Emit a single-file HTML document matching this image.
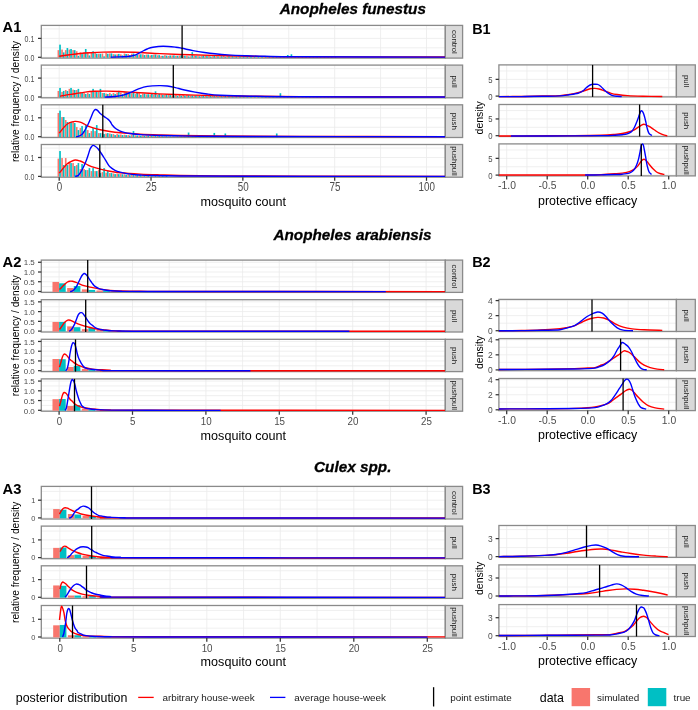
<!DOCTYPE html>
<html><head><meta charset="utf-8"><style>
html,body{margin:0;padding:0;background:#fff;}
svg{display:block;font-family:"Liberation Sans", sans-serif;will-change:transform;}
</style></head><body>
<svg width="698" height="710" viewBox="0 0 698 710">
<text transform="translate(352.8 14.4)" font-size="15.3" text-anchor="middle" font-weight="bold" font-style="italic" fill="#000" stroke="#000" stroke-width="0.3">Anopheles funestus</text>
<text transform="translate(2.5 32.3) scale(0.95 1)" font-size="15.5" fill="#000" font-weight="bold">A1</text>
<text transform="translate(472.2 33.9) scale(0.93 1)" font-size="15.5" fill="#000" font-weight="bold">B1</text>
<rect x="41.3" y="25.4" width="404" height="32.7" fill="#fff"/>
<line x1="59.2" y1="25.4" x2="59.2" y2="58.1" stroke="#EBEBEB" stroke-width="0.8"/>
<line x1="151.03" y1="25.4" x2="151.03" y2="58.1" stroke="#EBEBEB" stroke-width="0.8"/>
<line x1="242.85" y1="25.4" x2="242.85" y2="58.1" stroke="#EBEBEB" stroke-width="0.8"/>
<line x1="334.68" y1="25.4" x2="334.68" y2="58.1" stroke="#EBEBEB" stroke-width="0.8"/>
<line x1="426.5" y1="25.4" x2="426.5" y2="58.1" stroke="#EBEBEB" stroke-width="0.8"/>
<line x1="105.11" y1="25.4" x2="105.11" y2="58.1" stroke="#EBEBEB" stroke-width="0.8"/>
<line x1="196.94" y1="25.4" x2="196.94" y2="58.1" stroke="#EBEBEB" stroke-width="0.8"/>
<line x1="288.76" y1="25.4" x2="288.76" y2="58.1" stroke="#EBEBEB" stroke-width="0.8"/>
<line x1="380.59" y1="25.4" x2="380.59" y2="58.1" stroke="#EBEBEB" stroke-width="0.8"/>
<line x1="41.3" y1="57.3" x2="445.3" y2="57.3" stroke="#EBEBEB" stroke-width="0.8"/>
<line x1="41.3" y1="38.4" x2="445.3" y2="38.4" stroke="#EBEBEB" stroke-width="0.8"/>
<line x1="41.3" y1="47.85" x2="445.3" y2="47.85" stroke="#EBEBEB" stroke-width="0.8"/>
<line x1="41.3" y1="28.95" x2="445.3" y2="28.95" stroke="#EBEBEB" stroke-width="0.8"/>
<rect x="41.3" y="25.4" width="404" height="32.7" fill="none" stroke="#8a8a8a" stroke-width="1.3"/>
<rect x="445.3" y="25.4" width="17.3" height="32.7" fill="#D9D9D9" stroke="#8a8a8a" stroke-width="1.3"/>
<text transform="translate(453.55 41.95) rotate(90) scale(1 0.88)" y="2.05" text-anchor="middle" font-size="7.9" fill="#1a1a1a">control</text>
<rect x="57.55" y="50.12" width="1.65" height="7.58" fill="#F8766D"/>
<rect x="61.22" y="49.55" width="1.65" height="8.15" fill="#F8766D"/>
<rect x="64.89" y="50.12" width="1.65" height="7.58" fill="#F8766D"/>
<rect x="68.57" y="49.55" width="1.65" height="8.15" fill="#F8766D"/>
<rect x="72.24" y="50.12" width="1.65" height="7.58" fill="#F8766D"/>
<rect x="75.91" y="51.25" width="1.65" height="6.45" fill="#F8766D"/>
<rect x="79.59" y="52.39" width="1.65" height="5.31" fill="#F8766D"/>
<rect x="83.26" y="52.39" width="1.65" height="5.31" fill="#F8766D"/>
<rect x="86.93" y="52.39" width="1.65" height="5.31" fill="#F8766D"/>
<rect x="90.60" y="52.39" width="1.65" height="5.31" fill="#F8766D"/>
<rect x="94.28" y="52.95" width="1.65" height="4.75" fill="#F8766D"/>
<rect x="97.95" y="53.71" width="1.65" height="3.99" fill="#F8766D"/>
<rect x="101.62" y="53.52" width="1.65" height="4.18" fill="#F8766D"/>
<rect x="105.30" y="52.95" width="1.65" height="4.75" fill="#F8766D"/>
<rect x="108.97" y="53.52" width="1.65" height="4.18" fill="#F8766D"/>
<rect x="112.64" y="54.15" width="1.65" height="3.55" fill="#F8766D"/>
<rect x="116.32" y="54.34" width="1.65" height="3.36" fill="#F8766D"/>
<rect x="119.99" y="54.37" width="1.65" height="3.33" fill="#F8766D"/>
<rect x="123.66" y="53.55" width="1.65" height="4.15" fill="#F8766D"/>
<rect x="127.33" y="54.07" width="1.65" height="3.63" fill="#F8766D"/>
<rect x="131.01" y="53.68" width="1.65" height="4.02" fill="#F8766D"/>
<rect x="134.68" y="55.18" width="1.65" height="2.52" fill="#F8766D"/>
<rect x="138.35" y="54.42" width="1.65" height="3.28" fill="#F8766D"/>
<rect x="142.03" y="54.27" width="1.65" height="3.43" fill="#F8766D"/>
<rect x="145.70" y="54.56" width="1.65" height="3.14" fill="#F8766D"/>
<rect x="149.37" y="55.34" width="1.65" height="2.36" fill="#F8766D"/>
<rect x="153.05" y="54.75" width="1.65" height="2.95" fill="#F8766D"/>
<rect x="156.72" y="55.30" width="1.65" height="2.40" fill="#F8766D"/>
<rect x="160.39" y="55.89" width="1.65" height="1.81" fill="#F8766D"/>
<rect x="164.06" y="55.18" width="1.65" height="2.52" fill="#F8766D"/>
<rect x="167.74" y="55.88" width="1.65" height="1.82" fill="#F8766D"/>
<rect x="171.41" y="55.45" width="1.65" height="2.25" fill="#F8766D"/>
<rect x="175.08" y="55.82" width="1.65" height="1.88" fill="#F8766D"/>
<rect x="178.76" y="55.77" width="1.65" height="1.93" fill="#F8766D"/>
<rect x="182.43" y="55.82" width="1.65" height="1.88" fill="#F8766D"/>
<rect x="186.10" y="55.91" width="1.65" height="1.79" fill="#F8766D"/>
<rect x="189.78" y="56.30" width="1.65" height="1.40" fill="#F8766D"/>
<rect x="193.45" y="55.66" width="1.65" height="2.04" fill="#F8766D"/>
<rect x="197.12" y="56.13" width="1.65" height="1.57" fill="#F8766D"/>
<rect x="200.79" y="56.11" width="1.65" height="1.59" fill="#F8766D"/>
<rect x="204.47" y="55.98" width="1.65" height="1.72" fill="#F8766D"/>
<rect x="208.14" y="55.97" width="1.65" height="1.73" fill="#F8766D"/>
<rect x="211.81" y="56.22" width="1.65" height="1.48" fill="#F8766D"/>
<rect x="215.49" y="56.22" width="1.65" height="1.48" fill="#F8766D"/>
<rect x="219.16" y="56.43" width="1.65" height="1.27" fill="#F8766D"/>
<rect x="222.83" y="56.08" width="1.65" height="1.62" fill="#F8766D"/>
<rect x="226.51" y="56.21" width="1.65" height="1.49" fill="#F8766D"/>
<rect x="230.18" y="56.19" width="1.65" height="1.51" fill="#F8766D"/>
<rect x="233.85" y="56.26" width="1.65" height="1.44" fill="#F8766D"/>
<rect x="237.52" y="56.41" width="1.65" height="1.29" fill="#F8766D"/>
<rect x="241.20" y="56.67" width="1.65" height="1.03" fill="#F8766D"/>
<rect x="244.87" y="56.46" width="1.65" height="1.24" fill="#F8766D"/>
<rect x="248.54" y="56.51" width="1.65" height="1.19" fill="#F8766D"/>
<rect x="252.22" y="56.59" width="1.65" height="1.11" fill="#F8766D"/>
<rect x="255.89" y="56.53" width="1.65" height="1.17" fill="#F8766D"/>
<rect x="259.56" y="56.52" width="1.65" height="1.18" fill="#F8766D"/>
<rect x="263.24" y="56.77" width="1.65" height="0.93" fill="#F8766D"/>
<rect x="266.91" y="56.72" width="1.65" height="0.98" fill="#F8766D"/>
<rect x="270.58" y="56.47" width="1.65" height="1.23" fill="#F8766D"/>
<rect x="274.25" y="56.51" width="1.65" height="1.19" fill="#F8766D"/>
<rect x="277.93" y="56.72" width="1.65" height="0.98" fill="#F8766D"/>
<rect x="281.60" y="56.58" width="1.65" height="1.12" fill="#F8766D"/>
<rect x="285.27" y="56.83" width="1.65" height="0.87" fill="#F8766D"/>
<rect x="288.95" y="56.58" width="1.65" height="1.12" fill="#F8766D"/>
<rect x="292.62" y="56.81" width="1.65" height="0.89" fill="#F8766D"/>
<rect x="296.29" y="56.74" width="1.65" height="0.96" fill="#F8766D"/>
<rect x="299.97" y="56.81" width="1.65" height="0.89" fill="#F8766D"/>
<rect x="303.64" y="56.81" width="1.65" height="0.89" fill="#F8766D"/>
<rect x="307.31" y="56.64" width="1.65" height="1.06" fill="#F8766D"/>
<rect x="310.98" y="56.78" width="1.65" height="0.92" fill="#F8766D"/>
<rect x="314.66" y="56.88" width="1.65" height="0.82" fill="#F8766D"/>
<rect x="318.33" y="56.76" width="1.65" height="0.94" fill="#F8766D"/>
<rect x="322.00" y="56.86" width="1.65" height="0.84" fill="#F8766D"/>
<rect x="325.68" y="56.74" width="1.65" height="0.96" fill="#F8766D"/>
<rect x="329.35" y="56.71" width="1.65" height="0.99" fill="#F8766D"/>
<rect x="333.02" y="56.90" width="1.65" height="0.80" fill="#F8766D"/>
<rect x="59.20" y="44.64" width="1.65" height="13.06" fill="#00BFC4"/>
<rect x="62.87" y="52.39" width="1.65" height="5.31" fill="#00BFC4"/>
<rect x="66.55" y="48.04" width="1.65" height="9.66" fill="#00BFC4"/>
<rect x="70.22" y="48.98" width="1.65" height="8.72" fill="#00BFC4"/>
<rect x="73.89" y="50.12" width="1.65" height="7.58" fill="#00BFC4"/>
<rect x="77.56" y="55.79" width="1.65" height="1.91" fill="#00BFC4"/>
<rect x="81.24" y="54.09" width="1.65" height="3.61" fill="#00BFC4"/>
<rect x="84.91" y="48.98" width="1.65" height="8.72" fill="#00BFC4"/>
<rect x="88.58" y="55.41" width="1.65" height="2.29" fill="#00BFC4"/>
<rect x="92.26" y="51.25" width="1.65" height="6.45" fill="#00BFC4"/>
<rect x="95.93" y="53.71" width="1.65" height="3.99" fill="#00BFC4"/>
<rect x="99.60" y="53.71" width="1.65" height="3.99" fill="#00BFC4"/>
<rect x="103.28" y="56.36" width="1.65" height="1.35" fill="#00BFC4"/>
<rect x="106.95" y="53.71" width="1.65" height="3.99" fill="#00BFC4"/>
<rect x="110.62" y="53.40" width="1.65" height="4.30" fill="#00BFC4"/>
<rect x="114.30" y="54.49" width="1.65" height="3.21" fill="#00BFC4"/>
<rect x="117.97" y="53.92" width="1.65" height="3.78" fill="#00BFC4"/>
<rect x="121.64" y="55.40" width="1.65" height="2.30" fill="#00BFC4"/>
<rect x="125.31" y="53.99" width="1.65" height="3.71" fill="#00BFC4"/>
<rect x="128.99" y="55.15" width="1.65" height="2.55" fill="#00BFC4"/>
<rect x="132.66" y="53.55" width="1.65" height="4.15" fill="#00BFC4"/>
<rect x="136.33" y="55.01" width="1.65" height="2.69" fill="#00BFC4"/>
<rect x="140.01" y="54.26" width="1.65" height="3.44" fill="#00BFC4"/>
<rect x="143.68" y="55.04" width="1.65" height="2.66" fill="#00BFC4"/>
<rect x="147.35" y="54.63" width="1.65" height="3.07" fill="#00BFC4"/>
<rect x="151.03" y="54.93" width="1.65" height="2.77" fill="#00BFC4"/>
<rect x="154.70" y="54.55" width="1.65" height="3.15" fill="#00BFC4"/>
<rect x="158.37" y="55.14" width="1.65" height="2.56" fill="#00BFC4"/>
<rect x="162.04" y="55.83" width="1.65" height="1.87" fill="#00BFC4"/>
<rect x="165.72" y="55.62" width="1.65" height="2.08" fill="#00BFC4"/>
<rect x="169.39" y="55.49" width="1.65" height="2.21" fill="#00BFC4"/>
<rect x="173.06" y="55.38" width="1.65" height="2.32" fill="#00BFC4"/>
<rect x="176.74" y="55.80" width="1.65" height="1.90" fill="#00BFC4"/>
<rect x="180.41" y="55.40" width="1.65" height="2.30" fill="#00BFC4"/>
<rect x="184.08" y="55.98" width="1.65" height="1.72" fill="#00BFC4"/>
<rect x="187.75" y="56.49" width="1.65" height="1.21" fill="#00BFC4"/>
<rect x="191.43" y="52.20" width="1.65" height="5.50" fill="#00BFC4"/>
<rect x="195.10" y="55.90" width="1.65" height="1.80" fill="#00BFC4"/>
<rect x="198.77" y="56.43" width="1.65" height="1.27" fill="#00BFC4"/>
<rect x="202.45" y="55.59" width="1.65" height="2.11" fill="#00BFC4"/>
<rect x="206.12" y="56.11" width="1.65" height="1.59" fill="#00BFC4"/>
<rect x="209.79" y="56.46" width="1.65" height="1.24" fill="#00BFC4"/>
<rect x="213.47" y="55.80" width="1.65" height="1.90" fill="#00BFC4"/>
<rect x="217.14" y="56.30" width="1.65" height="1.40" fill="#00BFC4"/>
<rect x="220.81" y="56.26" width="1.65" height="1.44" fill="#00BFC4"/>
<rect x="224.49" y="56.76" width="1.65" height="0.94" fill="#00BFC4"/>
<rect x="228.16" y="56.09" width="1.65" height="1.61" fill="#00BFC4"/>
<rect x="231.83" y="56.19" width="1.65" height="1.51" fill="#00BFC4"/>
<rect x="235.50" y="56.40" width="1.65" height="1.30" fill="#00BFC4"/>
<rect x="239.18" y="56.50" width="1.65" height="1.20" fill="#00BFC4"/>
<rect x="242.85" y="56.19" width="1.65" height="1.51" fill="#00BFC4"/>
<rect x="246.52" y="56.71" width="1.65" height="0.99" fill="#00BFC4"/>
<rect x="250.20" y="56.52" width="1.65" height="1.18" fill="#00BFC4"/>
<rect x="253.87" y="56.63" width="1.65" height="1.07" fill="#00BFC4"/>
<rect x="257.54" y="56.46" width="1.65" height="1.24" fill="#00BFC4"/>
<rect x="261.22" y="56.59" width="1.65" height="1.11" fill="#00BFC4"/>
<rect x="264.89" y="56.75" width="1.65" height="0.95" fill="#00BFC4"/>
<rect x="268.56" y="56.54" width="1.65" height="1.16" fill="#00BFC4"/>
<rect x="272.23" y="56.42" width="1.65" height="1.28" fill="#00BFC4"/>
<rect x="275.91" y="56.43" width="1.65" height="1.27" fill="#00BFC4"/>
<rect x="279.58" y="56.43" width="1.65" height="1.27" fill="#00BFC4"/>
<rect x="283.25" y="56.89" width="1.65" height="0.81" fill="#00BFC4"/>
<rect x="286.93" y="55.03" width="1.65" height="2.67" fill="#00BFC4"/>
<rect x="290.60" y="54.28" width="1.65" height="3.42" fill="#00BFC4"/>
<rect x="294.27" y="56.61" width="1.65" height="1.09" fill="#00BFC4"/>
<rect x="297.94" y="56.92" width="1.65" height="0.78" fill="#00BFC4"/>
<rect x="301.62" y="56.68" width="1.65" height="1.02" fill="#00BFC4"/>
<rect x="305.29" y="56.82" width="1.65" height="0.88" fill="#00BFC4"/>
<rect x="308.96" y="56.73" width="1.65" height="0.97" fill="#00BFC4"/>
<rect x="312.64" y="56.73" width="1.65" height="0.97" fill="#00BFC4"/>
<rect x="316.31" y="56.78" width="1.65" height="0.92" fill="#00BFC4"/>
<rect x="319.98" y="56.89" width="1.65" height="0.81" fill="#00BFC4"/>
<rect x="323.66" y="56.53" width="1.65" height="1.17" fill="#00BFC4"/>
<rect x="327.33" y="56.89" width="1.65" height="0.81" fill="#00BFC4"/>
<rect x="331.00" y="56.59" width="1.65" height="1.11" fill="#00BFC4"/>
<rect x="334.68" y="56.99" width="1.65" height="0.71" fill="#00BFC4"/>
<path d="M59.20,56.20 C61.00,55.95 66.53,55.15 70.00,54.70 C73.47,54.25 76.67,53.83 80.00,53.50 C83.33,53.17 86.17,52.93 90.00,52.70 C93.83,52.47 98.33,52.22 103.00,52.10 C107.67,51.98 112.67,51.97 118.00,52.00 C123.33,52.03 128.00,52.03 135.00,52.30 C142.00,52.57 150.83,53.18 160.00,53.60 C169.17,54.02 180.00,54.47 190.00,54.80 C200.00,55.13 210.00,55.37 220.00,55.60 C230.00,55.83 236.67,56.02 250.00,56.20 C263.33,56.38 267.50,56.57 300.00,56.70 C332.50,56.83 420.83,56.95 445.00,57.00" fill="none" stroke="#FF0000" stroke-width="1.4" stroke-linejoin="round" stroke-linecap="butt"/>
<path d="M110.70,57.10 C112.25,57.07 116.78,57.05 120.00,56.90 C123.22,56.75 127.38,56.55 130.00,56.20 C132.62,55.85 133.78,55.53 135.70,54.80 C137.62,54.07 139.58,52.77 141.50,51.80 C143.42,50.83 145.30,49.77 147.20,49.00 C149.10,48.23 150.23,47.67 152.90,47.20 C155.57,46.73 159.38,46.20 163.20,46.20 C167.02,46.20 172.65,46.85 175.80,47.20 C178.95,47.55 179.23,47.73 182.10,48.30 C184.97,48.87 189.27,49.90 193.00,50.60 C196.73,51.30 200.83,51.97 204.50,52.50 C208.17,53.03 211.08,53.40 215.00,53.80 C218.92,54.20 223.00,54.58 228.00,54.90 C233.00,55.22 238.83,55.47 245.00,55.70 C251.17,55.93 255.83,56.12 265.00,56.30 C274.17,56.48 270.00,56.67 300.00,56.80 C330.00,56.93 420.83,57.05 445.00,57.10" fill="none" stroke="#0000FF" stroke-width="1.4" stroke-linejoin="round" stroke-linecap="butt"/>
<line x1="182.10" y1="25.40" x2="182.10" y2="58.10" stroke="#000" stroke-width="1.3"/>
<line x1="38" y1="57.3" x2="41.3" y2="57.3" stroke="#333333" stroke-width="1.25"/>
<text transform="translate(34.3 60.9) scale(0.86 1)" font-size="8.2" fill="#4d4d4d" text-anchor="end">0.0</text>
<line x1="38" y1="38.4" x2="41.3" y2="38.4" stroke="#333333" stroke-width="1.25"/>
<text transform="translate(34.3 42) scale(0.86 1)" font-size="8.2" fill="#4d4d4d" text-anchor="end">0.1</text>
<rect x="41.3" y="65.1" width="404" height="32.7" fill="#fff"/>
<line x1="59.2" y1="65.1" x2="59.2" y2="97.8" stroke="#EBEBEB" stroke-width="0.8"/>
<line x1="151.03" y1="65.1" x2="151.03" y2="97.8" stroke="#EBEBEB" stroke-width="0.8"/>
<line x1="242.85" y1="65.1" x2="242.85" y2="97.8" stroke="#EBEBEB" stroke-width="0.8"/>
<line x1="334.68" y1="65.1" x2="334.68" y2="97.8" stroke="#EBEBEB" stroke-width="0.8"/>
<line x1="426.5" y1="65.1" x2="426.5" y2="97.8" stroke="#EBEBEB" stroke-width="0.8"/>
<line x1="105.11" y1="65.1" x2="105.11" y2="97.8" stroke="#EBEBEB" stroke-width="0.8"/>
<line x1="196.94" y1="65.1" x2="196.94" y2="97.8" stroke="#EBEBEB" stroke-width="0.8"/>
<line x1="288.76" y1="65.1" x2="288.76" y2="97.8" stroke="#EBEBEB" stroke-width="0.8"/>
<line x1="380.59" y1="65.1" x2="380.59" y2="97.8" stroke="#EBEBEB" stroke-width="0.8"/>
<line x1="41.3" y1="97" x2="445.3" y2="97" stroke="#EBEBEB" stroke-width="0.8"/>
<line x1="41.3" y1="78.1" x2="445.3" y2="78.1" stroke="#EBEBEB" stroke-width="0.8"/>
<line x1="41.3" y1="87.55" x2="445.3" y2="87.55" stroke="#EBEBEB" stroke-width="0.8"/>
<line x1="41.3" y1="68.65" x2="445.3" y2="68.65" stroke="#EBEBEB" stroke-width="0.8"/>
<rect x="41.3" y="65.1" width="404" height="32.7" fill="none" stroke="#8a8a8a" stroke-width="1.3"/>
<rect x="445.3" y="65.1" width="17.3" height="32.7" fill="#D9D9D9" stroke="#8a8a8a" stroke-width="1.3"/>
<text transform="translate(453.55 81.65) rotate(90) scale(1 0.88)" y="2.05" text-anchor="middle" font-size="7.9" fill="#1a1a1a">pull</text>
<rect x="57.55" y="90.95" width="1.65" height="6.45" fill="#F8766D"/>
<rect x="61.22" y="91.90" width="1.65" height="5.50" fill="#F8766D"/>
<rect x="64.89" y="90.01" width="1.65" height="7.39" fill="#F8766D"/>
<rect x="68.57" y="88.87" width="1.65" height="8.53" fill="#F8766D"/>
<rect x="72.24" y="89.63" width="1.65" height="7.77" fill="#F8766D"/>
<rect x="75.91" y="90.01" width="1.65" height="7.39" fill="#F8766D"/>
<rect x="79.59" y="91.90" width="1.65" height="5.50" fill="#F8766D"/>
<rect x="83.26" y="93.03" width="1.65" height="4.37" fill="#F8766D"/>
<rect x="86.93" y="93.03" width="1.65" height="4.37" fill="#F8766D"/>
<rect x="90.60" y="91.90" width="1.65" height="5.50" fill="#F8766D"/>
<rect x="94.28" y="90.95" width="1.65" height="6.45" fill="#F8766D"/>
<rect x="97.95" y="91.90" width="1.65" height="5.50" fill="#F8766D"/>
<rect x="101.62" y="93.03" width="1.65" height="4.37" fill="#F8766D"/>
<rect x="105.30" y="93.60" width="1.65" height="3.80" fill="#F8766D"/>
<rect x="108.97" y="92.90" width="1.65" height="4.50" fill="#F8766D"/>
<rect x="112.64" y="92.92" width="1.65" height="4.48" fill="#F8766D"/>
<rect x="116.32" y="92.71" width="1.65" height="4.69" fill="#F8766D"/>
<rect x="119.99" y="92.59" width="1.65" height="4.81" fill="#F8766D"/>
<rect x="123.66" y="92.37" width="1.65" height="5.03" fill="#F8766D"/>
<rect x="127.33" y="92.95" width="1.65" height="4.45" fill="#F8766D"/>
<rect x="131.01" y="93.13" width="1.65" height="4.27" fill="#F8766D"/>
<rect x="134.68" y="94.07" width="1.65" height="3.33" fill="#F8766D"/>
<rect x="138.35" y="93.21" width="1.65" height="4.19" fill="#F8766D"/>
<rect x="142.03" y="93.74" width="1.65" height="3.66" fill="#F8766D"/>
<rect x="145.70" y="94.36" width="1.65" height="3.04" fill="#F8766D"/>
<rect x="149.37" y="94.46" width="1.65" height="2.94" fill="#F8766D"/>
<rect x="153.05" y="94.58" width="1.65" height="2.82" fill="#F8766D"/>
<rect x="156.72" y="94.89" width="1.65" height="2.51" fill="#F8766D"/>
<rect x="160.39" y="94.34" width="1.65" height="3.06" fill="#F8766D"/>
<rect x="164.06" y="94.86" width="1.65" height="2.54" fill="#F8766D"/>
<rect x="167.74" y="94.79" width="1.65" height="2.61" fill="#F8766D"/>
<rect x="171.41" y="95.42" width="1.65" height="1.98" fill="#F8766D"/>
<rect x="175.08" y="95.02" width="1.65" height="2.38" fill="#F8766D"/>
<rect x="178.76" y="94.92" width="1.65" height="2.48" fill="#F8766D"/>
<rect x="182.43" y="95.01" width="1.65" height="2.39" fill="#F8766D"/>
<rect x="186.10" y="95.06" width="1.65" height="2.34" fill="#F8766D"/>
<rect x="189.78" y="95.52" width="1.65" height="1.88" fill="#F8766D"/>
<rect x="193.45" y="95.47" width="1.65" height="1.93" fill="#F8766D"/>
<rect x="197.12" y="95.79" width="1.65" height="1.61" fill="#F8766D"/>
<rect x="200.79" y="95.70" width="1.65" height="1.70" fill="#F8766D"/>
<rect x="204.47" y="95.68" width="1.65" height="1.72" fill="#F8766D"/>
<rect x="208.14" y="95.60" width="1.65" height="1.80" fill="#F8766D"/>
<rect x="211.81" y="95.60" width="1.65" height="1.80" fill="#F8766D"/>
<rect x="215.49" y="95.75" width="1.65" height="1.65" fill="#F8766D"/>
<rect x="219.16" y="95.85" width="1.65" height="1.55" fill="#F8766D"/>
<rect x="222.83" y="96.14" width="1.65" height="1.26" fill="#F8766D"/>
<rect x="226.51" y="96.23" width="1.65" height="1.17" fill="#F8766D"/>
<rect x="230.18" y="95.86" width="1.65" height="1.54" fill="#F8766D"/>
<rect x="233.85" y="96.23" width="1.65" height="1.17" fill="#F8766D"/>
<rect x="237.52" y="96.15" width="1.65" height="1.25" fill="#F8766D"/>
<rect x="241.20" y="96.36" width="1.65" height="1.04" fill="#F8766D"/>
<rect x="244.87" y="96.31" width="1.65" height="1.09" fill="#F8766D"/>
<rect x="248.54" y="96.37" width="1.65" height="1.03" fill="#F8766D"/>
<rect x="252.22" y="96.42" width="1.65" height="0.98" fill="#F8766D"/>
<rect x="255.89" y="96.43" width="1.65" height="0.97" fill="#F8766D"/>
<rect x="259.56" y="96.11" width="1.65" height="1.29" fill="#F8766D"/>
<rect x="263.24" y="96.39" width="1.65" height="1.01" fill="#F8766D"/>
<rect x="266.91" y="96.33" width="1.65" height="1.07" fill="#F8766D"/>
<rect x="270.58" y="96.10" width="1.65" height="1.30" fill="#F8766D"/>
<rect x="274.25" y="96.49" width="1.65" height="0.91" fill="#F8766D"/>
<rect x="277.93" y="96.28" width="1.65" height="1.12" fill="#F8766D"/>
<rect x="281.60" y="96.48" width="1.65" height="0.92" fill="#F8766D"/>
<rect x="285.27" y="96.52" width="1.65" height="0.88" fill="#F8766D"/>
<rect x="288.95" y="96.27" width="1.65" height="1.13" fill="#F8766D"/>
<rect x="292.62" y="96.23" width="1.65" height="1.17" fill="#F8766D"/>
<rect x="296.29" y="96.26" width="1.65" height="1.14" fill="#F8766D"/>
<rect x="299.97" y="96.40" width="1.65" height="1.00" fill="#F8766D"/>
<rect x="303.64" y="96.35" width="1.65" height="1.05" fill="#F8766D"/>
<rect x="307.31" y="96.54" width="1.65" height="0.86" fill="#F8766D"/>
<rect x="310.98" y="96.29" width="1.65" height="1.11" fill="#F8766D"/>
<rect x="314.66" y="96.40" width="1.65" height="1.00" fill="#F8766D"/>
<rect x="318.33" y="96.43" width="1.65" height="0.97" fill="#F8766D"/>
<rect x="322.00" y="96.29" width="1.65" height="1.11" fill="#F8766D"/>
<rect x="325.68" y="96.41" width="1.65" height="0.99" fill="#F8766D"/>
<rect x="329.35" y="96.60" width="1.65" height="0.80" fill="#F8766D"/>
<rect x="333.02" y="96.56" width="1.65" height="0.84" fill="#F8766D"/>
<rect x="59.20" y="87.93" width="1.65" height="9.47" fill="#00BFC4"/>
<rect x="62.87" y="90.95" width="1.65" height="6.45" fill="#00BFC4"/>
<rect x="66.55" y="90.95" width="1.65" height="6.45" fill="#00BFC4"/>
<rect x="70.22" y="87.93" width="1.65" height="9.47" fill="#00BFC4"/>
<rect x="73.89" y="90.01" width="1.65" height="7.39" fill="#00BFC4"/>
<rect x="77.56" y="88.87" width="1.65" height="8.53" fill="#00BFC4"/>
<rect x="81.24" y="93.03" width="1.65" height="4.37" fill="#00BFC4"/>
<rect x="84.91" y="93.98" width="1.65" height="3.42" fill="#00BFC4"/>
<rect x="88.58" y="93.98" width="1.65" height="3.42" fill="#00BFC4"/>
<rect x="92.26" y="88.87" width="1.65" height="8.53" fill="#00BFC4"/>
<rect x="95.93" y="91.90" width="1.65" height="5.50" fill="#00BFC4"/>
<rect x="99.60" y="88.87" width="1.65" height="8.53" fill="#00BFC4"/>
<rect x="103.28" y="93.03" width="1.65" height="4.37" fill="#00BFC4"/>
<rect x="106.95" y="93.98" width="1.65" height="3.42" fill="#00BFC4"/>
<rect x="110.62" y="94.24" width="1.65" height="3.16" fill="#00BFC4"/>
<rect x="114.30" y="93.95" width="1.65" height="3.45" fill="#00BFC4"/>
<rect x="117.97" y="90.83" width="1.65" height="6.57" fill="#00BFC4"/>
<rect x="121.64" y="94.13" width="1.65" height="3.27" fill="#00BFC4"/>
<rect x="125.31" y="92.20" width="1.65" height="5.20" fill="#00BFC4"/>
<rect x="128.99" y="92.12" width="1.65" height="5.28" fill="#00BFC4"/>
<rect x="132.66" y="92.75" width="1.65" height="4.65" fill="#00BFC4"/>
<rect x="136.33" y="92.44" width="1.65" height="4.96" fill="#00BFC4"/>
<rect x="140.01" y="94.90" width="1.65" height="2.50" fill="#00BFC4"/>
<rect x="143.68" y="93.60" width="1.65" height="3.80" fill="#00BFC4"/>
<rect x="147.35" y="94.23" width="1.65" height="3.17" fill="#00BFC4"/>
<rect x="151.03" y="93.47" width="1.65" height="3.93" fill="#00BFC4"/>
<rect x="154.70" y="91.33" width="1.65" height="6.07" fill="#00BFC4"/>
<rect x="158.37" y="93.92" width="1.65" height="3.48" fill="#00BFC4"/>
<rect x="162.04" y="94.90" width="1.65" height="2.50" fill="#00BFC4"/>
<rect x="165.72" y="94.16" width="1.65" height="3.24" fill="#00BFC4"/>
<rect x="169.39" y="95.06" width="1.65" height="2.34" fill="#00BFC4"/>
<rect x="173.06" y="95.43" width="1.65" height="1.97" fill="#00BFC4"/>
<rect x="176.74" y="95.75" width="1.65" height="1.65" fill="#00BFC4"/>
<rect x="180.41" y="95.66" width="1.65" height="1.74" fill="#00BFC4"/>
<rect x="184.08" y="95.66" width="1.65" height="1.74" fill="#00BFC4"/>
<rect x="187.75" y="95.17" width="1.65" height="2.23" fill="#00BFC4"/>
<rect x="191.43" y="95.50" width="1.65" height="1.90" fill="#00BFC4"/>
<rect x="195.10" y="95.48" width="1.65" height="1.92" fill="#00BFC4"/>
<rect x="198.77" y="96.01" width="1.65" height="1.39" fill="#00BFC4"/>
<rect x="202.45" y="95.21" width="1.65" height="2.19" fill="#00BFC4"/>
<rect x="206.12" y="96.23" width="1.65" height="1.17" fill="#00BFC4"/>
<rect x="209.79" y="95.57" width="1.65" height="1.83" fill="#00BFC4"/>
<rect x="213.47" y="96.17" width="1.65" height="1.23" fill="#00BFC4"/>
<rect x="217.14" y="96.34" width="1.65" height="1.06" fill="#00BFC4"/>
<rect x="220.81" y="96.16" width="1.65" height="1.24" fill="#00BFC4"/>
<rect x="224.49" y="95.64" width="1.65" height="1.76" fill="#00BFC4"/>
<rect x="228.16" y="95.99" width="1.65" height="1.41" fill="#00BFC4"/>
<rect x="231.83" y="96.27" width="1.65" height="1.13" fill="#00BFC4"/>
<rect x="235.50" y="95.76" width="1.65" height="1.64" fill="#00BFC4"/>
<rect x="239.18" y="95.93" width="1.65" height="1.47" fill="#00BFC4"/>
<rect x="242.85" y="96.24" width="1.65" height="1.16" fill="#00BFC4"/>
<rect x="246.52" y="96.03" width="1.65" height="1.37" fill="#00BFC4"/>
<rect x="250.20" y="95.85" width="1.65" height="1.55" fill="#00BFC4"/>
<rect x="253.87" y="96.04" width="1.65" height="1.36" fill="#00BFC4"/>
<rect x="257.54" y="96.40" width="1.65" height="1.00" fill="#00BFC4"/>
<rect x="261.22" y="96.48" width="1.65" height="0.92" fill="#00BFC4"/>
<rect x="264.89" y="96.14" width="1.65" height="1.26" fill="#00BFC4"/>
<rect x="268.56" y="96.58" width="1.65" height="0.82" fill="#00BFC4"/>
<rect x="272.23" y="96.52" width="1.65" height="0.88" fill="#00BFC4"/>
<rect x="275.91" y="96.41" width="1.65" height="0.99" fill="#00BFC4"/>
<rect x="279.58" y="93.22" width="1.65" height="4.18" fill="#00BFC4"/>
<rect x="283.25" y="96.44" width="1.65" height="0.96" fill="#00BFC4"/>
<rect x="286.93" y="96.38" width="1.65" height="1.02" fill="#00BFC4"/>
<rect x="290.60" y="96.23" width="1.65" height="1.17" fill="#00BFC4"/>
<rect x="294.27" y="96.23" width="1.65" height="1.17" fill="#00BFC4"/>
<rect x="297.94" y="96.27" width="1.65" height="1.13" fill="#00BFC4"/>
<rect x="301.62" y="96.54" width="1.65" height="0.86" fill="#00BFC4"/>
<rect x="305.29" y="96.50" width="1.65" height="0.90" fill="#00BFC4"/>
<rect x="308.96" y="96.44" width="1.65" height="0.96" fill="#00BFC4"/>
<rect x="312.64" y="96.61" width="1.65" height="0.79" fill="#00BFC4"/>
<rect x="316.31" y="96.48" width="1.65" height="0.92" fill="#00BFC4"/>
<rect x="319.98" y="96.61" width="1.65" height="0.79" fill="#00BFC4"/>
<rect x="323.66" y="96.56" width="1.65" height="0.84" fill="#00BFC4"/>
<rect x="327.33" y="96.48" width="1.65" height="0.92" fill="#00BFC4"/>
<rect x="331.00" y="96.42" width="1.65" height="0.98" fill="#00BFC4"/>
<rect x="334.68" y="96.67" width="1.65" height="0.73" fill="#00BFC4"/>
<path d="M60.00,96.10 C61.17,95.90 64.48,95.30 67.00,94.90 C69.52,94.50 72.08,94.17 75.10,93.70 C78.12,93.23 81.77,92.50 85.10,92.10 C88.43,91.70 91.43,91.47 95.10,91.30 C98.77,91.13 103.08,91.07 107.10,91.10 C111.12,91.13 114.52,91.27 119.20,91.50 C123.88,91.73 129.18,92.13 135.20,92.50 C141.22,92.87 148.62,93.37 155.30,93.70 C161.98,94.03 168.68,94.27 175.30,94.50 C181.92,94.73 187.55,94.90 195.00,95.10 C202.45,95.30 210.83,95.52 220.00,95.70 C229.17,95.88 236.67,96.05 250.00,96.20 C263.33,96.35 267.50,96.48 300.00,96.60 C332.50,96.72 420.83,96.85 445.00,96.90" fill="none" stroke="#FF0000" stroke-width="1.4" stroke-linejoin="round" stroke-linecap="butt"/>
<path d="M104.70,97.10 C106.45,97.00 112.12,96.83 115.20,96.50 C118.28,96.17 120.53,95.83 123.20,95.10 C125.87,94.37 128.53,93.18 131.20,92.10 C133.87,91.02 136.52,89.55 139.20,88.60 C141.88,87.65 143.95,86.90 147.30,86.40 C150.65,85.90 155.97,85.67 159.30,85.60 C162.63,85.53 164.63,85.67 167.30,86.00 C169.97,86.33 172.62,86.98 175.30,87.60 C177.98,88.22 180.12,88.95 183.40,89.70 C186.68,90.45 191.07,91.38 195.00,92.10 C198.93,92.82 202.75,93.48 207.00,94.00 C211.25,94.52 213.33,94.83 220.50,95.20 C227.67,95.57 236.75,95.93 250.00,96.20 C263.25,96.47 267.50,96.67 300.00,96.80 C332.50,96.93 420.83,96.97 445.00,97.00" fill="none" stroke="#0000FF" stroke-width="1.4" stroke-linejoin="round" stroke-linecap="butt"/>
<line x1="173.30" y1="65.10" x2="173.30" y2="97.80" stroke="#000" stroke-width="1.3"/>
<line x1="38" y1="97" x2="41.3" y2="97" stroke="#333333" stroke-width="1.25"/>
<text transform="translate(34.3 100.6) scale(0.86 1)" font-size="8.2" fill="#4d4d4d" text-anchor="end">0.0</text>
<line x1="38" y1="78.1" x2="41.3" y2="78.1" stroke="#333333" stroke-width="1.25"/>
<text transform="translate(34.3 81.7) scale(0.86 1)" font-size="8.2" fill="#4d4d4d" text-anchor="end">0.1</text>
<rect x="41.3" y="104.8" width="404" height="32.7" fill="#fff"/>
<line x1="59.2" y1="104.8" x2="59.2" y2="137.5" stroke="#EBEBEB" stroke-width="0.8"/>
<line x1="151.03" y1="104.8" x2="151.03" y2="137.5" stroke="#EBEBEB" stroke-width="0.8"/>
<line x1="242.85" y1="104.8" x2="242.85" y2="137.5" stroke="#EBEBEB" stroke-width="0.8"/>
<line x1="334.68" y1="104.8" x2="334.68" y2="137.5" stroke="#EBEBEB" stroke-width="0.8"/>
<line x1="426.5" y1="104.8" x2="426.5" y2="137.5" stroke="#EBEBEB" stroke-width="0.8"/>
<line x1="105.11" y1="104.8" x2="105.11" y2="137.5" stroke="#EBEBEB" stroke-width="0.8"/>
<line x1="196.94" y1="104.8" x2="196.94" y2="137.5" stroke="#EBEBEB" stroke-width="0.8"/>
<line x1="288.76" y1="104.8" x2="288.76" y2="137.5" stroke="#EBEBEB" stroke-width="0.8"/>
<line x1="380.59" y1="104.8" x2="380.59" y2="137.5" stroke="#EBEBEB" stroke-width="0.8"/>
<line x1="41.3" y1="136.7" x2="445.3" y2="136.7" stroke="#EBEBEB" stroke-width="0.8"/>
<line x1="41.3" y1="117.8" x2="445.3" y2="117.8" stroke="#EBEBEB" stroke-width="0.8"/>
<line x1="41.3" y1="127.25" x2="445.3" y2="127.25" stroke="#EBEBEB" stroke-width="0.8"/>
<line x1="41.3" y1="108.35" x2="445.3" y2="108.35" stroke="#EBEBEB" stroke-width="0.8"/>
<rect x="41.3" y="104.8" width="404" height="32.7" fill="none" stroke="#8a8a8a" stroke-width="1.3"/>
<rect x="445.3" y="104.8" width="17.3" height="32.7" fill="#D9D9D9" stroke="#8a8a8a" stroke-width="1.3"/>
<text transform="translate(453.55 121.35) rotate(90) scale(1 0.88)" y="2.05" text-anchor="middle" font-size="7.9" fill="#1a1a1a">push</text>
<rect x="57.55" y="113.03" width="1.65" height="24.07" fill="#F8766D"/>
<rect x="61.22" y="117.04" width="1.65" height="20.06" fill="#F8766D"/>
<rect x="64.89" y="120.05" width="1.65" height="17.05" fill="#F8766D"/>
<rect x="68.57" y="123.06" width="1.65" height="14.04" fill="#F8766D"/>
<rect x="72.24" y="122.06" width="1.65" height="15.04" fill="#F8766D"/>
<rect x="75.91" y="127.07" width="1.65" height="10.03" fill="#F8766D"/>
<rect x="79.59" y="128.08" width="1.65" height="9.02" fill="#F8766D"/>
<rect x="83.26" y="131.08" width="1.65" height="6.02" fill="#F8766D"/>
<rect x="86.93" y="130.08" width="1.65" height="7.02" fill="#F8766D"/>
<rect x="90.60" y="131.08" width="1.65" height="6.02" fill="#F8766D"/>
<rect x="94.28" y="131.08" width="1.65" height="6.02" fill="#F8766D"/>
<rect x="97.95" y="133.09" width="1.65" height="4.01" fill="#F8766D"/>
<rect x="101.62" y="133.09" width="1.65" height="4.01" fill="#F8766D"/>
<rect x="105.30" y="133.49" width="1.65" height="3.61" fill="#F8766D"/>
<rect x="108.97" y="133.49" width="1.65" height="3.61" fill="#F8766D"/>
<rect x="112.64" y="134.09" width="1.65" height="3.01" fill="#F8766D"/>
<rect x="116.32" y="134.09" width="1.65" height="3.01" fill="#F8766D"/>
<rect x="119.99" y="134.49" width="1.65" height="2.61" fill="#F8766D"/>
<rect x="123.66" y="134.69" width="1.65" height="2.41" fill="#F8766D"/>
<rect x="127.33" y="135.10" width="1.65" height="2.00" fill="#F8766D"/>
<rect x="131.01" y="135.10" width="1.65" height="2.00" fill="#F8766D"/>
<rect x="134.68" y="135.30" width="1.65" height="1.80" fill="#F8766D"/>
<rect x="138.35" y="135.50" width="1.65" height="1.60" fill="#F8766D"/>
<rect x="142.03" y="135.50" width="1.65" height="1.60" fill="#F8766D"/>
<rect x="145.70" y="135.70" width="1.65" height="1.40" fill="#F8766D"/>
<rect x="149.37" y="135.70" width="1.65" height="1.40" fill="#F8766D"/>
<rect x="153.05" y="135.90" width="1.65" height="1.20" fill="#F8766D"/>
<rect x="156.72" y="135.90" width="1.65" height="1.20" fill="#F8766D"/>
<rect x="160.39" y="136.10" width="1.65" height="1.00" fill="#F8766D"/>
<rect x="164.06" y="136.10" width="1.65" height="1.00" fill="#F8766D"/>
<rect x="167.74" y="136.32" width="1.65" height="0.78" fill="#F8766D"/>
<rect x="171.41" y="136.32" width="1.65" height="0.78" fill="#F8766D"/>
<rect x="175.08" y="136.32" width="1.65" height="0.78" fill="#F8766D"/>
<rect x="178.76" y="136.32" width="1.65" height="0.78" fill="#F8766D"/>
<rect x="182.43" y="136.32" width="1.65" height="0.78" fill="#F8766D"/>
<rect x="186.10" y="136.32" width="1.65" height="0.78" fill="#F8766D"/>
<rect x="189.78" y="136.32" width="1.65" height="0.78" fill="#F8766D"/>
<rect x="193.45" y="136.32" width="1.65" height="0.78" fill="#F8766D"/>
<rect x="197.12" y="136.32" width="1.65" height="0.78" fill="#F8766D"/>
<rect x="200.79" y="136.32" width="1.65" height="0.78" fill="#F8766D"/>
<rect x="204.47" y="136.32" width="1.65" height="0.78" fill="#F8766D"/>
<rect x="208.14" y="136.32" width="1.65" height="0.78" fill="#F8766D"/>
<rect x="211.81" y="136.32" width="1.65" height="0.78" fill="#F8766D"/>
<rect x="215.49" y="136.32" width="1.65" height="0.78" fill="#F8766D"/>
<rect x="219.16" y="136.32" width="1.65" height="0.78" fill="#F8766D"/>
<rect x="222.83" y="136.32" width="1.65" height="0.78" fill="#F8766D"/>
<rect x="226.51" y="136.32" width="1.65" height="0.78" fill="#F8766D"/>
<rect x="230.18" y="136.32" width="1.65" height="0.78" fill="#F8766D"/>
<rect x="233.85" y="136.32" width="1.65" height="0.78" fill="#F8766D"/>
<rect x="237.52" y="136.32" width="1.65" height="0.78" fill="#F8766D"/>
<rect x="241.20" y="136.32" width="1.65" height="0.78" fill="#F8766D"/>
<rect x="244.87" y="136.32" width="1.65" height="0.78" fill="#F8766D"/>
<rect x="248.54" y="136.32" width="1.65" height="0.78" fill="#F8766D"/>
<rect x="252.22" y="136.32" width="1.65" height="0.78" fill="#F8766D"/>
<rect x="255.89" y="136.32" width="1.65" height="0.78" fill="#F8766D"/>
<rect x="259.56" y="136.32" width="1.65" height="0.78" fill="#F8766D"/>
<rect x="263.24" y="136.32" width="1.65" height="0.78" fill="#F8766D"/>
<rect x="266.91" y="136.32" width="1.65" height="0.78" fill="#F8766D"/>
<rect x="270.58" y="136.32" width="1.65" height="0.78" fill="#F8766D"/>
<rect x="274.25" y="136.32" width="1.65" height="0.78" fill="#F8766D"/>
<rect x="277.93" y="136.32" width="1.65" height="0.78" fill="#F8766D"/>
<rect x="59.20" y="110.63" width="1.65" height="26.47" fill="#00BFC4"/>
<rect x="62.87" y="117.04" width="1.65" height="20.06" fill="#00BFC4"/>
<rect x="66.55" y="122.06" width="1.65" height="15.04" fill="#00BFC4"/>
<rect x="70.22" y="122.06" width="1.65" height="15.04" fill="#00BFC4"/>
<rect x="73.89" y="123.06" width="1.65" height="14.04" fill="#00BFC4"/>
<rect x="77.56" y="130.08" width="1.65" height="7.02" fill="#00BFC4"/>
<rect x="81.24" y="126.07" width="1.65" height="11.03" fill="#00BFC4"/>
<rect x="84.91" y="125.07" width="1.65" height="12.03" fill="#00BFC4"/>
<rect x="88.58" y="133.09" width="1.65" height="4.01" fill="#00BFC4"/>
<rect x="92.26" y="128.08" width="1.65" height="9.02" fill="#00BFC4"/>
<rect x="95.93" y="125.07" width="1.65" height="12.03" fill="#00BFC4"/>
<rect x="99.60" y="133.09" width="1.65" height="4.01" fill="#00BFC4"/>
<rect x="103.28" y="134.09" width="1.65" height="3.01" fill="#00BFC4"/>
<rect x="106.95" y="133.09" width="1.65" height="4.01" fill="#00BFC4"/>
<rect x="110.62" y="134.09" width="1.65" height="3.01" fill="#00BFC4"/>
<rect x="114.30" y="135.10" width="1.65" height="2.00" fill="#00BFC4"/>
<rect x="117.97" y="134.69" width="1.65" height="2.41" fill="#00BFC4"/>
<rect x="121.64" y="135.10" width="1.65" height="2.00" fill="#00BFC4"/>
<rect x="125.31" y="135.10" width="1.65" height="2.00" fill="#00BFC4"/>
<rect x="128.99" y="135.50" width="1.65" height="1.60" fill="#00BFC4"/>
<rect x="132.66" y="131.08" width="1.65" height="6.02" fill="#00BFC4"/>
<rect x="136.33" y="135.50" width="1.65" height="1.60" fill="#00BFC4"/>
<rect x="140.01" y="135.70" width="1.65" height="1.40" fill="#00BFC4"/>
<rect x="143.68" y="135.90" width="1.65" height="1.20" fill="#00BFC4"/>
<rect x="147.35" y="135.90" width="1.65" height="1.20" fill="#00BFC4"/>
<rect x="151.03" y="136.10" width="1.65" height="1.00" fill="#00BFC4"/>
<rect x="154.70" y="136.10" width="1.65" height="1.00" fill="#00BFC4"/>
<rect x="158.37" y="136.10" width="1.65" height="1.00" fill="#00BFC4"/>
<rect x="162.04" y="136.30" width="1.65" height="0.80" fill="#00BFC4"/>
<rect x="165.72" y="136.30" width="1.65" height="0.80" fill="#00BFC4"/>
<rect x="169.39" y="136.42" width="1.65" height="0.68" fill="#00BFC4"/>
<rect x="173.06" y="136.42" width="1.65" height="0.68" fill="#00BFC4"/>
<rect x="176.74" y="136.42" width="1.65" height="0.68" fill="#00BFC4"/>
<rect x="180.41" y="136.42" width="1.65" height="0.68" fill="#00BFC4"/>
<rect x="184.08" y="136.42" width="1.65" height="0.68" fill="#00BFC4"/>
<rect x="187.75" y="132.54" width="1.65" height="4.56" fill="#00BFC4"/>
<rect x="191.43" y="136.42" width="1.65" height="0.68" fill="#00BFC4"/>
<rect x="195.10" y="136.42" width="1.65" height="0.68" fill="#00BFC4"/>
<rect x="198.77" y="136.42" width="1.65" height="0.68" fill="#00BFC4"/>
<rect x="202.45" y="136.42" width="1.65" height="0.68" fill="#00BFC4"/>
<rect x="206.12" y="136.42" width="1.65" height="0.68" fill="#00BFC4"/>
<rect x="209.79" y="136.42" width="1.65" height="0.68" fill="#00BFC4"/>
<rect x="213.47" y="132.92" width="1.65" height="4.18" fill="#00BFC4"/>
<rect x="217.14" y="136.42" width="1.65" height="0.68" fill="#00BFC4"/>
<rect x="220.81" y="136.42" width="1.65" height="0.68" fill="#00BFC4"/>
<rect x="224.49" y="133.49" width="1.65" height="3.61" fill="#00BFC4"/>
<rect x="228.16" y="136.42" width="1.65" height="0.68" fill="#00BFC4"/>
<rect x="231.83" y="136.42" width="1.65" height="0.68" fill="#00BFC4"/>
<rect x="235.50" y="136.42" width="1.65" height="0.68" fill="#00BFC4"/>
<rect x="239.18" y="136.42" width="1.65" height="0.68" fill="#00BFC4"/>
<rect x="242.85" y="136.42" width="1.65" height="0.68" fill="#00BFC4"/>
<rect x="246.52" y="136.42" width="1.65" height="0.68" fill="#00BFC4"/>
<rect x="250.20" y="136.42" width="1.65" height="0.68" fill="#00BFC4"/>
<rect x="253.87" y="136.42" width="1.65" height="0.68" fill="#00BFC4"/>
<rect x="257.54" y="136.42" width="1.65" height="0.68" fill="#00BFC4"/>
<rect x="261.22" y="136.42" width="1.65" height="0.68" fill="#00BFC4"/>
<rect x="264.89" y="136.42" width="1.65" height="0.68" fill="#00BFC4"/>
<rect x="268.56" y="136.42" width="1.65" height="0.68" fill="#00BFC4"/>
<rect x="272.23" y="136.42" width="1.65" height="0.68" fill="#00BFC4"/>
<rect x="275.91" y="133.49" width="1.65" height="3.61" fill="#00BFC4"/>
<rect x="279.58" y="136.42" width="1.65" height="0.68" fill="#00BFC4"/>
<path d="M59.30,133.10 C60.10,132.10 62.65,128.70 64.10,127.10 C65.55,125.50 66.67,124.38 68.00,123.50 C69.33,122.62 70.85,122.15 72.10,121.80 C73.35,121.45 74.17,121.35 75.50,121.40 C76.83,121.45 78.68,121.70 80.10,122.10 C81.52,122.50 82.67,123.13 84.00,123.80 C85.33,124.47 86.43,125.37 88.10,126.10 C89.77,126.83 91.98,127.60 94.00,128.20 C96.02,128.80 97.53,129.15 100.20,129.70 C102.87,130.25 106.67,131.00 110.00,131.50 C113.33,132.00 115.15,132.25 120.20,132.70 C125.25,133.15 133.67,133.82 140.30,134.20 C146.93,134.58 153.38,134.78 160.00,135.00 C166.62,135.22 170.00,135.33 180.00,135.50 C190.00,135.67 200.00,135.85 220.00,136.00 C240.00,136.15 262.50,136.30 300.00,136.40 C337.50,136.50 420.83,136.57 445.00,136.60" fill="none" stroke="#FF0000" stroke-width="1.4" stroke-linejoin="round" stroke-linecap="butt"/>
<path d="M76.10,136.70 C76.58,136.62 78.00,136.60 79.00,136.20 C80.00,135.80 81.10,135.33 82.10,134.30 C83.10,133.27 84.00,131.67 85.00,130.00 C86.00,128.33 87.10,126.38 88.10,124.30 C89.10,122.22 90.10,119.63 91.00,117.50 C91.90,115.37 92.77,112.83 93.50,111.50 C94.23,110.17 94.73,109.68 95.40,109.50 C96.07,109.32 96.70,109.73 97.50,110.40 C98.30,111.07 99.08,112.47 100.20,113.50 C101.32,114.53 102.87,115.62 104.20,116.60 C105.53,117.58 107.15,118.50 108.20,119.40 C109.25,120.30 109.83,121.07 110.50,122.00 C111.17,122.93 111.28,123.87 112.20,125.00 C113.12,126.13 114.67,127.78 116.00,128.80 C117.33,129.82 118.70,130.47 120.20,131.10 C121.70,131.73 123.32,132.20 125.00,132.60 C126.68,133.00 127.75,133.17 130.30,133.50 C132.85,133.83 135.30,134.27 140.30,134.60 C145.30,134.93 152.02,135.25 160.30,135.50 C168.58,135.75 175.05,135.93 190.00,136.10 C204.95,136.27 207.50,136.40 250.00,136.50 C292.50,136.60 412.50,136.67 445.00,136.70" fill="none" stroke="#0000FF" stroke-width="1.4" stroke-linejoin="round" stroke-linecap="butt"/>
<line x1="102.80" y1="104.80" x2="102.80" y2="137.50" stroke="#000" stroke-width="1.3"/>
<line x1="38" y1="136.7" x2="41.3" y2="136.7" stroke="#333333" stroke-width="1.25"/>
<text transform="translate(34.3 140.3) scale(0.86 1)" font-size="8.2" fill="#4d4d4d" text-anchor="end">0.0</text>
<line x1="38" y1="117.8" x2="41.3" y2="117.8" stroke="#333333" stroke-width="1.25"/>
<text transform="translate(34.3 121.4) scale(0.86 1)" font-size="8.2" fill="#4d4d4d" text-anchor="end">0.1</text>
<rect x="41.3" y="144.5" width="404" height="32.7" fill="#fff"/>
<line x1="59.2" y1="144.5" x2="59.2" y2="177.2" stroke="#EBEBEB" stroke-width="0.8"/>
<line x1="151.03" y1="144.5" x2="151.03" y2="177.2" stroke="#EBEBEB" stroke-width="0.8"/>
<line x1="242.85" y1="144.5" x2="242.85" y2="177.2" stroke="#EBEBEB" stroke-width="0.8"/>
<line x1="334.68" y1="144.5" x2="334.68" y2="177.2" stroke="#EBEBEB" stroke-width="0.8"/>
<line x1="426.5" y1="144.5" x2="426.5" y2="177.2" stroke="#EBEBEB" stroke-width="0.8"/>
<line x1="105.11" y1="144.5" x2="105.11" y2="177.2" stroke="#EBEBEB" stroke-width="0.8"/>
<line x1="196.94" y1="144.5" x2="196.94" y2="177.2" stroke="#EBEBEB" stroke-width="0.8"/>
<line x1="288.76" y1="144.5" x2="288.76" y2="177.2" stroke="#EBEBEB" stroke-width="0.8"/>
<line x1="380.59" y1="144.5" x2="380.59" y2="177.2" stroke="#EBEBEB" stroke-width="0.8"/>
<line x1="41.3" y1="176.4" x2="445.3" y2="176.4" stroke="#EBEBEB" stroke-width="0.8"/>
<line x1="41.3" y1="157.5" x2="445.3" y2="157.5" stroke="#EBEBEB" stroke-width="0.8"/>
<line x1="41.3" y1="166.95" x2="445.3" y2="166.95" stroke="#EBEBEB" stroke-width="0.8"/>
<line x1="41.3" y1="148.05" x2="445.3" y2="148.05" stroke="#EBEBEB" stroke-width="0.8"/>
<rect x="41.3" y="144.5" width="404" height="32.7" fill="none" stroke="#8a8a8a" stroke-width="1.3"/>
<rect x="445.3" y="144.5" width="17.3" height="32.7" fill="#D9D9D9" stroke="#8a8a8a" stroke-width="1.3"/>
<text transform="translate(453.55 161.05) rotate(90) scale(1 0.88)" y="2.05" text-anchor="middle" font-size="7.9" fill="#1a1a1a">pushpull</text>
<rect x="57.55" y="158.65" width="1.65" height="18.15" fill="#F8766D"/>
<rect x="61.22" y="158.05" width="1.65" height="18.75" fill="#F8766D"/>
<rect x="64.89" y="158.05" width="1.65" height="18.75" fill="#F8766D"/>
<rect x="68.57" y="162.06" width="1.65" height="14.74" fill="#F8766D"/>
<rect x="72.24" y="163.06" width="1.65" height="13.74" fill="#F8766D"/>
<rect x="75.91" y="165.07" width="1.65" height="11.73" fill="#F8766D"/>
<rect x="79.59" y="169.08" width="1.65" height="7.72" fill="#F8766D"/>
<rect x="83.26" y="169.08" width="1.65" height="7.72" fill="#F8766D"/>
<rect x="86.93" y="170.08" width="1.65" height="6.72" fill="#F8766D"/>
<rect x="90.60" y="171.09" width="1.65" height="5.71" fill="#F8766D"/>
<rect x="94.28" y="171.09" width="1.65" height="5.71" fill="#F8766D"/>
<rect x="97.95" y="170.08" width="1.65" height="6.72" fill="#F8766D"/>
<rect x="101.62" y="172.09" width="1.65" height="4.71" fill="#F8766D"/>
<rect x="105.30" y="172.69" width="1.65" height="4.11" fill="#F8766D"/>
<rect x="108.97" y="173.09" width="1.65" height="3.71" fill="#F8766D"/>
<rect x="112.64" y="173.49" width="1.65" height="3.31" fill="#F8766D"/>
<rect x="116.32" y="173.69" width="1.65" height="3.11" fill="#F8766D"/>
<rect x="119.99" y="174.09" width="1.65" height="2.71" fill="#F8766D"/>
<rect x="123.66" y="174.29" width="1.65" height="2.51" fill="#F8766D"/>
<rect x="127.33" y="174.49" width="1.65" height="2.31" fill="#F8766D"/>
<rect x="131.01" y="174.70" width="1.65" height="2.10" fill="#F8766D"/>
<rect x="134.68" y="174.90" width="1.65" height="1.90" fill="#F8766D"/>
<rect x="138.35" y="175.10" width="1.65" height="1.70" fill="#F8766D"/>
<rect x="142.03" y="175.10" width="1.65" height="1.70" fill="#F8766D"/>
<rect x="145.70" y="175.30" width="1.65" height="1.50" fill="#F8766D"/>
<rect x="149.37" y="175.50" width="1.65" height="1.30" fill="#F8766D"/>
<rect x="153.05" y="175.50" width="1.65" height="1.30" fill="#F8766D"/>
<rect x="156.72" y="175.70" width="1.65" height="1.10" fill="#F8766D"/>
<rect x="160.39" y="175.70" width="1.65" height="1.10" fill="#F8766D"/>
<rect x="164.06" y="175.90" width="1.65" height="0.90" fill="#F8766D"/>
<rect x="59.20" y="151.03" width="1.65" height="25.77" fill="#00BFC4"/>
<rect x="62.87" y="165.07" width="1.65" height="11.73" fill="#00BFC4"/>
<rect x="66.55" y="165.07" width="1.65" height="11.73" fill="#00BFC4"/>
<rect x="70.22" y="163.06" width="1.65" height="13.74" fill="#00BFC4"/>
<rect x="73.89" y="166.07" width="1.65" height="10.73" fill="#00BFC4"/>
<rect x="77.56" y="163.06" width="1.65" height="13.74" fill="#00BFC4"/>
<rect x="81.24" y="164.07" width="1.65" height="12.73" fill="#00BFC4"/>
<rect x="84.91" y="170.08" width="1.65" height="6.72" fill="#00BFC4"/>
<rect x="88.58" y="168.08" width="1.65" height="8.72" fill="#00BFC4"/>
<rect x="92.26" y="168.08" width="1.65" height="8.72" fill="#00BFC4"/>
<rect x="95.93" y="171.09" width="1.65" height="5.71" fill="#00BFC4"/>
<rect x="99.60" y="173.09" width="1.65" height="3.71" fill="#00BFC4"/>
<rect x="103.28" y="168.08" width="1.65" height="8.72" fill="#00BFC4"/>
<rect x="106.95" y="171.09" width="1.65" height="5.71" fill="#00BFC4"/>
<rect x="110.62" y="173.09" width="1.65" height="3.71" fill="#00BFC4"/>
<rect x="114.30" y="174.09" width="1.65" height="2.71" fill="#00BFC4"/>
<rect x="117.97" y="174.09" width="1.65" height="2.71" fill="#00BFC4"/>
<rect x="121.64" y="174.29" width="1.65" height="2.51" fill="#00BFC4"/>
<rect x="125.31" y="174.70" width="1.65" height="2.10" fill="#00BFC4"/>
<rect x="128.99" y="175.10" width="1.65" height="1.70" fill="#00BFC4"/>
<rect x="132.66" y="175.10" width="1.65" height="1.70" fill="#00BFC4"/>
<rect x="136.33" y="175.10" width="1.65" height="1.70" fill="#00BFC4"/>
<rect x="140.01" y="175.30" width="1.65" height="1.50" fill="#00BFC4"/>
<rect x="143.68" y="175.50" width="1.65" height="1.30" fill="#00BFC4"/>
<rect x="147.35" y="175.50" width="1.65" height="1.30" fill="#00BFC4"/>
<rect x="151.03" y="175.70" width="1.65" height="1.10" fill="#00BFC4"/>
<rect x="154.70" y="175.70" width="1.65" height="1.10" fill="#00BFC4"/>
<rect x="158.37" y="175.90" width="1.65" height="0.90" fill="#00BFC4"/>
<rect x="162.04" y="175.90" width="1.65" height="0.90" fill="#00BFC4"/>
<rect x="165.72" y="175.90" width="1.65" height="0.90" fill="#00BFC4"/>
<path d="M59.30,173.10 C60.10,172.10 62.82,168.62 64.10,167.10 C65.38,165.58 66.00,164.85 67.00,164.00 C68.00,163.15 68.75,162.67 70.10,162.00 C71.45,161.33 73.43,160.17 75.10,160.00 C76.77,159.83 78.62,160.53 80.10,161.00 C81.58,161.47 82.67,162.12 84.00,162.80 C85.33,163.48 86.43,164.33 88.10,165.10 C89.77,165.87 91.98,166.73 94.00,167.40 C96.02,168.07 97.53,168.47 100.20,169.10 C102.87,169.73 106.67,170.60 110.00,171.20 C113.33,171.80 115.15,172.22 120.20,172.70 C125.25,173.18 133.67,173.73 140.30,174.10 C146.93,174.47 153.38,174.67 160.00,174.90 C166.62,175.13 170.00,175.33 180.00,175.50 C190.00,175.67 200.00,175.78 220.00,175.90 C240.00,176.02 262.50,176.12 300.00,176.20 C337.50,176.28 420.83,176.37 445.00,176.40" fill="none" stroke="#FF0000" stroke-width="1.4" stroke-linejoin="round" stroke-linecap="butt"/>
<path d="M75.10,176.40 C75.58,176.27 77.17,176.15 78.00,175.60 C78.83,175.05 79.27,174.37 80.10,173.10 C80.93,171.83 82.00,170.02 83.00,168.00 C84.00,165.98 85.23,163.17 86.10,161.00 C86.97,158.83 87.53,157.00 88.20,155.00 C88.87,153.00 89.50,150.45 90.10,149.00 C90.70,147.55 91.30,146.90 91.80,146.30 C92.30,145.70 92.48,145.37 93.10,145.40 C93.72,145.43 94.65,145.90 95.50,146.50 C96.35,147.10 97.28,147.92 98.20,149.00 C99.12,150.08 100.00,151.50 101.00,153.00 C102.00,154.50 103.20,156.40 104.20,158.00 C105.20,159.60 106.00,161.08 107.00,162.60 C108.00,164.12 108.87,165.82 110.20,167.10 C111.53,168.38 113.33,169.47 115.00,170.30 C116.67,171.13 117.65,171.47 120.20,172.10 C122.75,172.73 127.00,173.62 130.30,174.10 C133.60,174.58 136.67,174.77 140.00,175.00 C143.33,175.23 143.63,175.33 150.30,175.50 C156.97,175.67 163.38,175.87 180.00,176.00 C196.62,176.13 205.83,176.23 250.00,176.30 C294.17,176.37 412.50,176.38 445.00,176.40" fill="none" stroke="#0000FF" stroke-width="1.4" stroke-linejoin="round" stroke-linecap="butt"/>
<line x1="99.80" y1="144.50" x2="99.80" y2="177.20" stroke="#000" stroke-width="1.3"/>
<line x1="38" y1="176.4" x2="41.3" y2="176.4" stroke="#333333" stroke-width="1.25"/>
<text transform="translate(34.3 180) scale(0.86 1)" font-size="8.2" fill="#4d4d4d" text-anchor="end">0.0</text>
<line x1="38" y1="157.5" x2="41.3" y2="157.5" stroke="#333333" stroke-width="1.25"/>
<text transform="translate(34.3 161.1) scale(0.86 1)" font-size="8.2" fill="#4d4d4d" text-anchor="end">0.1</text>
<line x1="59.2" y1="177.2" x2="59.2" y2="180.8" stroke="#333333" stroke-width="1.25"/>
<text transform="translate(59.5 190.5) scale(0.82 1)" font-size="12.0" fill="#4d4d4d" text-anchor="middle">0</text>
<line x1="151.03" y1="177.2" x2="151.03" y2="180.8" stroke="#333333" stroke-width="1.25"/>
<text transform="translate(151.33 190.5) scale(0.82 1)" font-size="12.0" fill="#4d4d4d" text-anchor="middle">25</text>
<line x1="242.85" y1="177.2" x2="242.85" y2="180.8" stroke="#333333" stroke-width="1.25"/>
<text transform="translate(243.15 190.5) scale(0.82 1)" font-size="12.0" fill="#4d4d4d" text-anchor="middle">50</text>
<line x1="334.68" y1="177.2" x2="334.68" y2="180.8" stroke="#333333" stroke-width="1.25"/>
<text transform="translate(334.98 190.5) scale(0.82 1)" font-size="12.0" fill="#4d4d4d" text-anchor="middle">75</text>
<line x1="426.5" y1="177.2" x2="426.5" y2="180.8" stroke="#333333" stroke-width="1.25"/>
<text transform="translate(426.8 190.5) scale(0.82 1)" font-size="12.0" fill="#4d4d4d" text-anchor="middle">100</text>
<text transform="translate(243.3 205.5)" font-size="12.6" fill="#000" text-anchor="middle">mosquito count</text>
<text transform="translate(19.1 101.5) rotate(-90)" font-size="10.2" fill="#000" text-anchor="middle">relative frequency / density</text>
<rect x="498.9" y="64.9" width="177.5" height="32" fill="#fff"/>
<line x1="506.7" y1="64.9" x2="506.7" y2="96.9" stroke="#EBEBEB" stroke-width="0.8"/>
<line x1="547.2" y1="64.9" x2="547.2" y2="96.9" stroke="#EBEBEB" stroke-width="0.8"/>
<line x1="587.7" y1="64.9" x2="587.7" y2="96.9" stroke="#EBEBEB" stroke-width="0.8"/>
<line x1="628.2" y1="64.9" x2="628.2" y2="96.9" stroke="#EBEBEB" stroke-width="0.8"/>
<line x1="668.7" y1="64.9" x2="668.7" y2="96.9" stroke="#EBEBEB" stroke-width="0.8"/>
<line x1="526.95" y1="64.9" x2="526.95" y2="96.9" stroke="#EBEBEB" stroke-width="0.8"/>
<line x1="567.45" y1="64.9" x2="567.45" y2="96.9" stroke="#EBEBEB" stroke-width="0.8"/>
<line x1="607.95" y1="64.9" x2="607.95" y2="96.9" stroke="#EBEBEB" stroke-width="0.8"/>
<line x1="648.45" y1="64.9" x2="648.45" y2="96.9" stroke="#EBEBEB" stroke-width="0.8"/>
<line x1="498.9" y1="96.1" x2="676.4" y2="96.1" stroke="#EBEBEB" stroke-width="0.8"/>
<line x1="498.9" y1="79.35" x2="676.4" y2="79.35" stroke="#EBEBEB" stroke-width="0.8"/>
<line x1="498.9" y1="87.73" x2="676.4" y2="87.73" stroke="#EBEBEB" stroke-width="0.8"/>
<line x1="498.9" y1="70.98" x2="676.4" y2="70.98" stroke="#EBEBEB" stroke-width="0.8"/>
<rect x="498.9" y="64.9" width="177.5" height="32" fill="none" stroke="#8a8a8a" stroke-width="1.3"/>
<rect x="676.4" y="64.9" width="18.9" height="32" fill="#D9D9D9" stroke="#8a8a8a" stroke-width="1.3"/>
<text transform="translate(685.45 81.1) rotate(90) scale(1 0.88)" y="2.05" text-anchor="middle" font-size="7.9" fill="#1a1a1a">pull</text>
<path d="M498.98,96.59 C502.73,96.57 514.22,96.60 521.50,96.51 C528.79,96.42 536.29,96.21 542.71,96.06 C549.12,95.91 555.61,95.89 559.99,95.61 C564.37,95.33 565.98,94.89 569.00,94.39 C572.02,93.89 575.57,93.21 578.09,92.61 C580.61,92.02 582.11,91.45 584.11,90.81 C586.11,90.17 588.35,89.20 590.10,88.80 C591.85,88.39 593.10,88.36 594.60,88.40 C596.10,88.43 597.36,88.56 599.11,89.01 C600.86,89.46 603.10,90.39 605.10,91.10 C607.09,91.82 609.07,92.74 611.09,93.30 C613.11,93.87 614.44,94.11 617.21,94.49 C619.98,94.88 623.46,95.32 627.71,95.61 C631.96,95.89 636.94,96.04 642.71,96.19 C648.47,96.34 659.03,96.46 662.29,96.51" fill="none" stroke="#FF0000" stroke-width="1.4" stroke-linejoin="round" stroke-linecap="butt"/>
<path d="M498.98,96.67 C502.73,96.65 514.22,96.65 521.50,96.59 C528.79,96.52 536.29,96.38 542.71,96.27 C549.12,96.15 555.61,96.14 559.99,95.90 C564.37,95.66 565.98,95.24 569.00,94.81 C572.02,94.38 575.82,93.92 578.09,93.30 C580.36,92.68 581.23,92.03 582.60,91.10 C583.97,90.17 585.06,88.72 586.31,87.71 C587.56,86.69 588.85,85.58 590.10,85.01 C591.35,84.44 592.56,84.39 593.81,84.29 C595.06,84.19 596.47,84.08 597.60,84.40 C598.73,84.71 599.59,85.38 600.59,86.20 C601.60,87.02 602.48,88.23 603.61,89.30 C604.75,90.37 606.02,91.61 607.40,92.61 C608.79,93.61 610.28,94.68 611.91,95.29 C613.54,95.90 615.58,96.09 617.21,96.30 C618.84,96.50 620.94,96.47 621.69,96.51" fill="none" stroke="#0000FF" stroke-width="1.4" stroke-linejoin="round" stroke-linecap="butt"/>
<line x1="592.60" y1="64.90" x2="592.60" y2="96.90" stroke="#000" stroke-width="1.3"/>
<line x1="495.6" y1="96.1" x2="498.9" y2="96.1" stroke="#333333" stroke-width="1.25"/>
<text transform="translate(492.5 99.5) scale(0.88 1)" font-size="8.8" fill="#4d4d4d" text-anchor="end">0</text>
<line x1="495.6" y1="79.35" x2="498.9" y2="79.35" stroke="#333333" stroke-width="1.25"/>
<text transform="translate(492.5 82.75) scale(0.88 1)" font-size="8.8" fill="#4d4d4d" text-anchor="end">5</text>
<rect x="498.9" y="104.5" width="177.5" height="32" fill="#fff"/>
<line x1="506.7" y1="104.5" x2="506.7" y2="136.5" stroke="#EBEBEB" stroke-width="0.8"/>
<line x1="547.2" y1="104.5" x2="547.2" y2="136.5" stroke="#EBEBEB" stroke-width="0.8"/>
<line x1="587.7" y1="104.5" x2="587.7" y2="136.5" stroke="#EBEBEB" stroke-width="0.8"/>
<line x1="628.2" y1="104.5" x2="628.2" y2="136.5" stroke="#EBEBEB" stroke-width="0.8"/>
<line x1="668.7" y1="104.5" x2="668.7" y2="136.5" stroke="#EBEBEB" stroke-width="0.8"/>
<line x1="526.95" y1="104.5" x2="526.95" y2="136.5" stroke="#EBEBEB" stroke-width="0.8"/>
<line x1="567.45" y1="104.5" x2="567.45" y2="136.5" stroke="#EBEBEB" stroke-width="0.8"/>
<line x1="607.95" y1="104.5" x2="607.95" y2="136.5" stroke="#EBEBEB" stroke-width="0.8"/>
<line x1="648.45" y1="104.5" x2="648.45" y2="136.5" stroke="#EBEBEB" stroke-width="0.8"/>
<line x1="498.9" y1="135.7" x2="676.4" y2="135.7" stroke="#EBEBEB" stroke-width="0.8"/>
<line x1="498.9" y1="118.95" x2="676.4" y2="118.95" stroke="#EBEBEB" stroke-width="0.8"/>
<line x1="498.9" y1="127.32" x2="676.4" y2="127.32" stroke="#EBEBEB" stroke-width="0.8"/>
<line x1="498.9" y1="110.57" x2="676.4" y2="110.57" stroke="#EBEBEB" stroke-width="0.8"/>
<rect x="498.9" y="104.5" width="177.5" height="32" fill="none" stroke="#8a8a8a" stroke-width="1.3"/>
<rect x="676.4" y="104.5" width="18.9" height="32" fill="#D9D9D9" stroke="#8a8a8a" stroke-width="1.3"/>
<text transform="translate(685.45 120.7) rotate(90) scale(1 0.88)" y="2.05" text-anchor="middle" font-size="7.9" fill="#1a1a1a">push</text>
<path d="M498.98,135.93 C502.73,135.93 508.91,135.97 521.50,135.93 C534.09,135.88 561.26,135.77 574.51,135.66 C587.76,135.55 594.27,135.47 601.02,135.26 C607.77,135.05 611.48,134.68 615.01,134.39 C618.54,134.09 619.81,133.92 622.19,133.49 C624.57,133.05 627.28,132.40 629.30,131.79 C631.32,131.18 632.76,130.62 634.31,129.80 C635.86,128.99 637.40,127.67 638.60,126.89 C639.80,126.11 640.64,125.56 641.49,125.11 C642.34,124.67 642.97,124.26 643.69,124.21 C644.41,124.16 644.97,124.46 645.81,124.79 C646.64,125.12 647.63,125.60 648.70,126.20 C649.76,126.80 651.01,127.62 652.20,128.40 C653.38,129.18 654.60,130.12 655.80,130.89 C657.00,131.66 657.97,132.29 659.40,133.01 C660.84,133.73 663.08,134.75 664.39,135.21 C665.70,135.67 666.80,135.70 667.28,135.79" fill="none" stroke="#FF0000" stroke-width="1.4" stroke-linejoin="round" stroke-linecap="butt"/>
<path d="M510.90,136.06 C517.09,136.06 532.99,136.12 548.01,136.06 C563.03,135.99 589.85,135.80 601.02,135.66 C612.18,135.52 611.48,135.37 615.01,135.21 C618.54,135.05 620.16,134.92 622.19,134.71 C624.23,134.49 625.65,134.43 627.20,133.91 C628.75,133.39 630.31,132.66 631.50,131.61 C632.68,130.55 633.47,129.10 634.31,127.60 C635.14,126.10 635.79,124.38 636.51,122.59 C637.22,120.81 638.00,118.56 638.60,116.90 C639.20,115.23 639.63,113.62 640.11,112.60 C640.59,111.59 641.02,110.87 641.49,110.80 C641.95,110.73 642.41,111.30 642.89,112.20 C643.38,113.11 643.92,114.59 644.40,116.21 C644.89,117.82 645.34,119.87 645.81,121.90 C646.28,123.94 646.68,126.48 647.21,128.40 C647.74,130.32 648.21,132.22 648.99,133.41 C649.77,134.59 651.42,135.15 651.90,135.50" fill="none" stroke="#0000FF" stroke-width="1.4" stroke-linejoin="round" stroke-linecap="butt"/>
<line x1="639.60" y1="104.50" x2="639.60" y2="136.50" stroke="#000" stroke-width="1.3"/>
<line x1="495.6" y1="135.7" x2="498.9" y2="135.7" stroke="#333333" stroke-width="1.25"/>
<text transform="translate(492.5 139.1) scale(0.88 1)" font-size="8.8" fill="#4d4d4d" text-anchor="end">0</text>
<line x1="495.6" y1="118.95" x2="498.9" y2="118.95" stroke="#333333" stroke-width="1.25"/>
<text transform="translate(492.5 122.35) scale(0.88 1)" font-size="8.8" fill="#4d4d4d" text-anchor="end">5</text>
<rect x="498.9" y="143.9" width="177.5" height="32" fill="#fff"/>
<line x1="506.7" y1="143.9" x2="506.7" y2="175.9" stroke="#EBEBEB" stroke-width="0.8"/>
<line x1="547.2" y1="143.9" x2="547.2" y2="175.9" stroke="#EBEBEB" stroke-width="0.8"/>
<line x1="587.7" y1="143.9" x2="587.7" y2="175.9" stroke="#EBEBEB" stroke-width="0.8"/>
<line x1="628.2" y1="143.9" x2="628.2" y2="175.9" stroke="#EBEBEB" stroke-width="0.8"/>
<line x1="668.7" y1="143.9" x2="668.7" y2="175.9" stroke="#EBEBEB" stroke-width="0.8"/>
<line x1="526.95" y1="143.9" x2="526.95" y2="175.9" stroke="#EBEBEB" stroke-width="0.8"/>
<line x1="567.45" y1="143.9" x2="567.45" y2="175.9" stroke="#EBEBEB" stroke-width="0.8"/>
<line x1="607.95" y1="143.9" x2="607.95" y2="175.9" stroke="#EBEBEB" stroke-width="0.8"/>
<line x1="648.45" y1="143.9" x2="648.45" y2="175.9" stroke="#EBEBEB" stroke-width="0.8"/>
<line x1="498.9" y1="175.1" x2="676.4" y2="175.1" stroke="#EBEBEB" stroke-width="0.8"/>
<line x1="498.9" y1="158.35" x2="676.4" y2="158.35" stroke="#EBEBEB" stroke-width="0.8"/>
<line x1="498.9" y1="166.72" x2="676.4" y2="166.72" stroke="#EBEBEB" stroke-width="0.8"/>
<line x1="498.9" y1="149.97" x2="676.4" y2="149.97" stroke="#EBEBEB" stroke-width="0.8"/>
<rect x="498.9" y="143.9" width="177.5" height="32" fill="none" stroke="#8a8a8a" stroke-width="1.3"/>
<rect x="676.4" y="143.9" width="18.9" height="32" fill="#D9D9D9" stroke="#8a8a8a" stroke-width="1.3"/>
<text transform="translate(685.45 160.1) rotate(90) scale(1 0.88)" y="2.05" text-anchor="middle" font-size="7.9" fill="#1a1a1a">pushpull</text>
<path d="M498.98,175.06 C502.73,175.06 513.33,175.06 521.50,175.06 C529.68,175.06 537.41,175.07 548.01,175.06 C558.61,175.05 576.28,175.07 585.11,175.00 C593.95,174.94 596.03,174.86 601.02,174.66 C606.00,174.46 611.48,174.05 615.01,173.79 C618.54,173.52 619.81,173.45 622.19,173.10 C624.57,172.75 627.28,172.36 629.30,171.69 C631.32,171.02 632.87,170.06 634.31,169.09 C635.74,168.13 636.83,167.14 637.91,165.89 C638.99,164.64 639.97,162.64 640.80,161.59 C641.63,160.55 642.29,159.99 642.89,159.61 C643.49,159.22 643.80,159.07 644.40,159.29 C645.00,159.50 645.67,160.03 646.50,160.90 C647.33,161.77 648.30,163.19 649.39,164.51 C650.47,165.83 651.81,167.55 652.99,168.80 C654.17,170.05 655.19,171.18 656.49,172.01 C657.79,172.84 659.49,173.37 660.81,173.79 C662.13,174.20 663.79,174.38 664.39,174.50" fill="none" stroke="#FF0000" stroke-width="1.4" stroke-linejoin="round" stroke-linecap="butt"/>
<path d="M585.11,175.06 C587.76,175.03 596.03,174.97 601.02,174.87 C606.00,174.78 611.48,174.61 615.01,174.50 C618.54,174.39 619.81,174.44 622.19,174.21 C624.57,173.98 627.40,173.76 629.30,173.10 C631.20,172.43 632.39,171.52 633.59,170.21 C634.79,168.89 635.67,167.10 636.51,165.20 C637.34,163.30 638.00,161.08 638.60,158.81 C639.20,156.54 639.69,153.75 640.11,151.60 C640.53,149.45 640.77,147.15 641.12,145.90 C641.47,144.65 641.84,144.23 642.20,144.10 C642.57,143.97 642.95,144.09 643.32,145.11 C643.68,146.12 643.99,148.05 644.40,150.20 C644.82,152.34 645.34,155.37 645.81,157.99 C646.28,160.60 646.68,163.60 647.21,165.89 C647.74,168.17 648.27,170.26 648.99,171.69 C649.70,173.13 651.09,174.03 651.51,174.50" fill="none" stroke="#0000FF" stroke-width="1.4" stroke-linejoin="round" stroke-linecap="butt"/>
<line x1="641.30" y1="143.90" x2="641.30" y2="175.90" stroke="#000" stroke-width="1.3"/>
<line x1="495.6" y1="175.1" x2="498.9" y2="175.1" stroke="#333333" stroke-width="1.25"/>
<text transform="translate(492.5 178.5) scale(0.88 1)" font-size="8.8" fill="#4d4d4d" text-anchor="end">0</text>
<line x1="495.6" y1="158.35" x2="498.9" y2="158.35" stroke="#333333" stroke-width="1.25"/>
<text transform="translate(492.5 161.75) scale(0.88 1)" font-size="8.8" fill="#4d4d4d" text-anchor="end">5</text>
<line x1="506.7" y1="175.9" x2="506.7" y2="179.5" stroke="#333333" stroke-width="1.25"/>
<text transform="translate(507 189.3) scale(0.9 1)" font-size="11.5" fill="#4d4d4d" text-anchor="middle">-1.0</text>
<line x1="547.2" y1="175.9" x2="547.2" y2="179.5" stroke="#333333" stroke-width="1.25"/>
<text transform="translate(547.5 189.3) scale(0.9 1)" font-size="11.5" fill="#4d4d4d" text-anchor="middle">-0.5</text>
<line x1="587.7" y1="175.9" x2="587.7" y2="179.5" stroke="#333333" stroke-width="1.25"/>
<text transform="translate(588 189.3) scale(0.9 1)" font-size="11.5" fill="#4d4d4d" text-anchor="middle">0.0</text>
<line x1="628.2" y1="175.9" x2="628.2" y2="179.5" stroke="#333333" stroke-width="1.25"/>
<text transform="translate(628.5 189.3) scale(0.9 1)" font-size="11.5" fill="#4d4d4d" text-anchor="middle">0.5</text>
<line x1="668.7" y1="175.9" x2="668.7" y2="179.5" stroke="#333333" stroke-width="1.25"/>
<text transform="translate(669 189.3) scale(0.9 1)" font-size="11.5" fill="#4d4d4d" text-anchor="middle">1.0</text>
<text transform="translate(587.65 204.7)" font-size="12.45" fill="#000" text-anchor="middle">protective efficacy</text>
<text transform="translate(482.8 117.8) rotate(-90)" font-size="10.5" fill="#000" text-anchor="middle">density</text>
<text transform="translate(352.5 240)" font-size="15.3" text-anchor="middle" font-weight="bold" font-style="italic" fill="#000" stroke="#000" stroke-width="0.3">Anopheles arabiensis</text>
<text transform="translate(2.5 266.5) scale(0.95 1)" font-size="15.5" fill="#000" font-weight="bold">A2</text>
<text transform="translate(472.2 267.1) scale(0.93 1)" font-size="15.5" fill="#000" font-weight="bold">B2</text>
<rect x="41.3" y="260.1" width="404" height="32.3" fill="#fff"/>
<line x1="59.1" y1="260.1" x2="59.1" y2="292.4" stroke="#EBEBEB" stroke-width="0.8"/>
<line x1="132.5" y1="260.1" x2="132.5" y2="292.4" stroke="#EBEBEB" stroke-width="0.8"/>
<line x1="205.9" y1="260.1" x2="205.9" y2="292.4" stroke="#EBEBEB" stroke-width="0.8"/>
<line x1="279.3" y1="260.1" x2="279.3" y2="292.4" stroke="#EBEBEB" stroke-width="0.8"/>
<line x1="352.7" y1="260.1" x2="352.7" y2="292.4" stroke="#EBEBEB" stroke-width="0.8"/>
<line x1="426.1" y1="260.1" x2="426.1" y2="292.4" stroke="#EBEBEB" stroke-width="0.8"/>
<line x1="95.8" y1="260.1" x2="95.8" y2="292.4" stroke="#EBEBEB" stroke-width="0.8"/>
<line x1="169.2" y1="260.1" x2="169.2" y2="292.4" stroke="#EBEBEB" stroke-width="0.8"/>
<line x1="242.6" y1="260.1" x2="242.6" y2="292.4" stroke="#EBEBEB" stroke-width="0.8"/>
<line x1="316" y1="260.1" x2="316" y2="292.4" stroke="#EBEBEB" stroke-width="0.8"/>
<line x1="389.4" y1="260.1" x2="389.4" y2="292.4" stroke="#EBEBEB" stroke-width="0.8"/>
<line x1="41.3" y1="291.5" x2="445.3" y2="291.5" stroke="#EBEBEB" stroke-width="0.8"/>
<line x1="41.3" y1="281.75" x2="445.3" y2="281.75" stroke="#EBEBEB" stroke-width="0.8"/>
<line x1="41.3" y1="272" x2="445.3" y2="272" stroke="#EBEBEB" stroke-width="0.8"/>
<line x1="41.3" y1="262.25" x2="445.3" y2="262.25" stroke="#EBEBEB" stroke-width="0.8"/>
<line x1="41.3" y1="286.63" x2="445.3" y2="286.63" stroke="#EBEBEB" stroke-width="0.8"/>
<line x1="41.3" y1="276.88" x2="445.3" y2="276.88" stroke="#EBEBEB" stroke-width="0.8"/>
<line x1="41.3" y1="267.13" x2="445.3" y2="267.13" stroke="#EBEBEB" stroke-width="0.8"/>
<rect x="41.3" y="260.1" width="404" height="32.3" fill="none" stroke="#8a8a8a" stroke-width="1.3"/>
<rect x="445.3" y="260.1" width="17.3" height="32.3" fill="#D9D9D9" stroke="#8a8a8a" stroke-width="1.3"/>
<text transform="translate(453.55 276.45) rotate(90) scale(1 0.88)" y="2.05" text-anchor="middle" font-size="7.9" fill="#1a1a1a">control</text>
<rect x="52.49" y="281.95" width="6.61" height="9.96" fill="#F8766D"/>
<rect x="67.17" y="287.99" width="6.61" height="3.91" fill="#F8766D"/>
<rect x="81.85" y="289.36" width="6.61" height="2.54" fill="#F8766D"/>
<rect x="96.53" y="290.53" width="6.61" height="1.38" fill="#F8766D"/>
<rect x="111.21" y="291.11" width="6.61" height="0.79" fill="#F8766D"/>
<rect x="125.89" y="291.31" width="6.61" height="0.59" fill="#F8766D"/>
<rect x="59.10" y="283.31" width="6.61" height="8.59" fill="#00BFC4"/>
<rect x="73.78" y="286.04" width="6.61" height="5.86" fill="#00BFC4"/>
<rect x="88.46" y="289.94" width="6.61" height="1.96" fill="#00BFC4"/>
<rect x="103.14" y="290.53" width="6.61" height="1.38" fill="#00BFC4"/>
<rect x="117.82" y="291.21" width="6.61" height="0.69" fill="#00BFC4"/>
<rect x="132.50" y="291.40" width="6.61" height="0.50" fill="#00BFC4"/>
<path d="M59.50,289.50 C59.92,289.08 61.08,287.92 62.00,287.00 C62.92,286.08 64.08,284.83 65.00,284.00 C65.92,283.17 66.72,282.47 67.50,282.00 C68.28,281.53 68.87,281.32 69.70,281.20 C70.53,281.08 71.43,281.10 72.50,281.30 C73.57,281.50 74.50,281.77 76.10,282.40 C77.70,283.03 79.77,284.32 82.10,285.10 C84.43,285.88 87.08,286.43 90.10,287.10 C93.12,287.77 96.85,288.53 100.20,289.10 C103.55,289.67 106.90,290.18 110.20,290.50 C113.50,290.82 115.03,290.87 120.00,291.00 C124.97,291.13 126.67,291.22 140.00,291.30 C153.33,291.38 149.17,291.45 200.00,291.50 C250.83,291.55 404.17,291.58 445.00,291.60" fill="none" stroke="#FF0000" stroke-width="1.4" stroke-linejoin="round" stroke-linecap="butt"/>
<path d="M70.10,291.60 C70.58,291.43 72.00,291.35 73.00,290.60 C74.00,289.85 75.27,288.28 76.10,287.10 C76.93,285.92 77.33,284.83 78.00,283.50 C78.67,282.17 79.43,280.43 80.10,279.10 C80.77,277.77 81.33,276.43 82.00,275.50 C82.67,274.57 83.43,273.67 84.10,273.50 C84.77,273.33 85.33,273.90 86.00,274.50 C86.67,275.10 87.43,276.15 88.10,277.10 C88.77,278.05 89.33,279.20 90.00,280.20 C90.67,281.20 91.43,282.23 92.10,283.10 C92.77,283.97 93.32,284.73 94.00,285.40 C94.68,286.07 95.37,286.57 96.20,287.10 C97.03,287.63 98.00,288.20 99.00,288.60 C100.00,289.00 100.33,289.15 102.20,289.50 C104.07,289.85 107.23,290.42 110.20,290.70 C113.17,290.98 113.37,291.07 120.00,291.20 C126.63,291.33 105.70,291.43 150.00,291.50 C194.30,291.57 346.50,291.58 385.80,291.60" fill="none" stroke="#0000FF" stroke-width="1.4" stroke-linejoin="round" stroke-linecap="butt"/>
<line x1="87.70" y1="260.10" x2="87.70" y2="292.40" stroke="#000" stroke-width="1.3"/>
<line x1="38" y1="291.5" x2="41.3" y2="291.5" stroke="#333333" stroke-width="1.25"/>
<text transform="translate(34.8 294.7) scale(1.08 1)" font-size="7.4" fill="#4d4d4d" text-anchor="end">0.0</text>
<line x1="38" y1="281.75" x2="41.3" y2="281.75" stroke="#333333" stroke-width="1.25"/>
<text transform="translate(34.8 284.95) scale(1.08 1)" font-size="7.4" fill="#4d4d4d" text-anchor="end">0.5</text>
<line x1="38" y1="272" x2="41.3" y2="272" stroke="#333333" stroke-width="1.25"/>
<text transform="translate(34.8 275.2) scale(1.08 1)" font-size="7.4" fill="#4d4d4d" text-anchor="end">1.0</text>
<line x1="38" y1="262.25" x2="41.3" y2="262.25" stroke="#333333" stroke-width="1.25"/>
<text transform="translate(34.8 265.45) scale(1.08 1)" font-size="7.4" fill="#4d4d4d" text-anchor="end">1.5</text>
<rect x="41.3" y="299.7" width="404" height="32.3" fill="#fff"/>
<line x1="59.1" y1="299.7" x2="59.1" y2="332" stroke="#EBEBEB" stroke-width="0.8"/>
<line x1="132.5" y1="299.7" x2="132.5" y2="332" stroke="#EBEBEB" stroke-width="0.8"/>
<line x1="205.9" y1="299.7" x2="205.9" y2="332" stroke="#EBEBEB" stroke-width="0.8"/>
<line x1="279.3" y1="299.7" x2="279.3" y2="332" stroke="#EBEBEB" stroke-width="0.8"/>
<line x1="352.7" y1="299.7" x2="352.7" y2="332" stroke="#EBEBEB" stroke-width="0.8"/>
<line x1="426.1" y1="299.7" x2="426.1" y2="332" stroke="#EBEBEB" stroke-width="0.8"/>
<line x1="95.8" y1="299.7" x2="95.8" y2="332" stroke="#EBEBEB" stroke-width="0.8"/>
<line x1="169.2" y1="299.7" x2="169.2" y2="332" stroke="#EBEBEB" stroke-width="0.8"/>
<line x1="242.6" y1="299.7" x2="242.6" y2="332" stroke="#EBEBEB" stroke-width="0.8"/>
<line x1="316" y1="299.7" x2="316" y2="332" stroke="#EBEBEB" stroke-width="0.8"/>
<line x1="389.4" y1="299.7" x2="389.4" y2="332" stroke="#EBEBEB" stroke-width="0.8"/>
<line x1="41.3" y1="331.1" x2="445.3" y2="331.1" stroke="#EBEBEB" stroke-width="0.8"/>
<line x1="41.3" y1="321.35" x2="445.3" y2="321.35" stroke="#EBEBEB" stroke-width="0.8"/>
<line x1="41.3" y1="311.6" x2="445.3" y2="311.6" stroke="#EBEBEB" stroke-width="0.8"/>
<line x1="41.3" y1="301.85" x2="445.3" y2="301.85" stroke="#EBEBEB" stroke-width="0.8"/>
<line x1="41.3" y1="326.23" x2="445.3" y2="326.23" stroke="#EBEBEB" stroke-width="0.8"/>
<line x1="41.3" y1="316.48" x2="445.3" y2="316.48" stroke="#EBEBEB" stroke-width="0.8"/>
<line x1="41.3" y1="306.73" x2="445.3" y2="306.73" stroke="#EBEBEB" stroke-width="0.8"/>
<rect x="41.3" y="299.7" width="404" height="32.3" fill="none" stroke="#8a8a8a" stroke-width="1.3"/>
<rect x="445.3" y="299.7" width="17.3" height="32.3" fill="#D9D9D9" stroke="#8a8a8a" stroke-width="1.3"/>
<text transform="translate(453.55 316.05) rotate(90) scale(1 0.88)" y="2.05" text-anchor="middle" font-size="7.9" fill="#1a1a1a">pull</text>
<rect x="52.49" y="321.94" width="6.61" height="9.56" fill="#F8766D"/>
<rect x="67.17" y="326.42" width="6.61" height="5.08" fill="#F8766D"/>
<rect x="81.85" y="329.15" width="6.61" height="2.35" fill="#F8766D"/>
<rect x="96.53" y="329.93" width="6.61" height="1.57" fill="#F8766D"/>
<rect x="111.21" y="330.71" width="6.61" height="0.79" fill="#F8766D"/>
<rect x="125.89" y="330.91" width="6.61" height="0.59" fill="#F8766D"/>
<rect x="59.10" y="321.94" width="6.61" height="9.56" fill="#00BFC4"/>
<rect x="73.78" y="327.20" width="6.61" height="4.30" fill="#00BFC4"/>
<rect x="88.46" y="327.98" width="6.61" height="3.52" fill="#00BFC4"/>
<rect x="103.14" y="330.12" width="6.61" height="1.38" fill="#00BFC4"/>
<rect x="117.82" y="330.81" width="6.61" height="0.69" fill="#00BFC4"/>
<rect x="132.50" y="331.00" width="6.61" height="0.50" fill="#00BFC4"/>
<path d="M59.50,329.50 C59.92,328.92 61.17,327.17 62.00,326.00 C62.83,324.83 63.55,323.48 64.50,322.50 C65.45,321.52 66.70,320.47 67.70,320.10 C68.70,319.73 69.43,319.97 70.50,320.30 C71.57,320.63 72.50,321.37 74.10,322.10 C75.70,322.83 77.43,323.80 80.10,324.70 C82.77,325.60 86.75,326.70 90.10,327.50 C93.45,328.30 96.85,329.00 100.20,329.50 C103.55,330.00 106.90,330.27 110.20,330.50 C113.50,330.73 113.37,330.78 120.00,330.90 C126.63,331.02 95.83,331.13 150.00,331.20 C204.17,331.27 395.83,331.28 445.00,331.30" fill="none" stroke="#FF0000" stroke-width="1.4" stroke-linejoin="round" stroke-linecap="butt"/>
<path d="M69.10,331.30 C69.50,331.00 70.67,330.53 71.50,329.50 C72.33,328.47 73.35,326.60 74.10,325.10 C74.85,323.60 75.33,322.17 76.00,320.50 C76.67,318.83 77.43,316.37 78.10,315.10 C78.77,313.83 79.50,313.32 80.00,312.90 C80.50,312.48 80.68,312.58 81.10,312.60 C81.52,312.62 82.00,312.58 82.50,313.00 C83.00,313.42 83.52,314.27 84.10,315.10 C84.68,315.93 85.33,317.00 86.00,318.00 C86.67,319.00 87.43,320.20 88.10,321.10 C88.77,322.00 89.33,322.73 90.00,323.40 C90.67,324.07 91.43,324.53 92.10,325.10 C92.77,325.67 93.32,326.30 94.00,326.80 C94.68,327.30 95.20,327.67 96.20,328.10 C97.20,328.53 98.67,329.07 100.00,329.40 C101.33,329.73 101.70,329.85 104.20,330.10 C106.70,330.35 107.37,330.72 115.00,330.90 C122.63,331.08 110.93,331.13 150.00,331.20 C189.07,331.27 316.17,331.28 349.40,331.30" fill="none" stroke="#0000FF" stroke-width="1.4" stroke-linejoin="round" stroke-linecap="butt"/>
<line x1="85.70" y1="299.70" x2="85.70" y2="332.00" stroke="#000" stroke-width="1.3"/>
<line x1="38" y1="331.1" x2="41.3" y2="331.1" stroke="#333333" stroke-width="1.25"/>
<text transform="translate(34.8 334.3) scale(1.08 1)" font-size="7.4" fill="#4d4d4d" text-anchor="end">0.0</text>
<line x1="38" y1="321.35" x2="41.3" y2="321.35" stroke="#333333" stroke-width="1.25"/>
<text transform="translate(34.8 324.55) scale(1.08 1)" font-size="7.4" fill="#4d4d4d" text-anchor="end">0.5</text>
<line x1="38" y1="311.6" x2="41.3" y2="311.6" stroke="#333333" stroke-width="1.25"/>
<text transform="translate(34.8 314.8) scale(1.08 1)" font-size="7.4" fill="#4d4d4d" text-anchor="end">1.0</text>
<line x1="38" y1="301.85" x2="41.3" y2="301.85" stroke="#333333" stroke-width="1.25"/>
<text transform="translate(34.8 305.05) scale(1.08 1)" font-size="7.4" fill="#4d4d4d" text-anchor="end">1.5</text>
<rect x="41.3" y="339.3" width="404" height="32.3" fill="#fff"/>
<line x1="59.1" y1="339.3" x2="59.1" y2="371.6" stroke="#EBEBEB" stroke-width="0.8"/>
<line x1="132.5" y1="339.3" x2="132.5" y2="371.6" stroke="#EBEBEB" stroke-width="0.8"/>
<line x1="205.9" y1="339.3" x2="205.9" y2="371.6" stroke="#EBEBEB" stroke-width="0.8"/>
<line x1="279.3" y1="339.3" x2="279.3" y2="371.6" stroke="#EBEBEB" stroke-width="0.8"/>
<line x1="352.7" y1="339.3" x2="352.7" y2="371.6" stroke="#EBEBEB" stroke-width="0.8"/>
<line x1="426.1" y1="339.3" x2="426.1" y2="371.6" stroke="#EBEBEB" stroke-width="0.8"/>
<line x1="95.8" y1="339.3" x2="95.8" y2="371.6" stroke="#EBEBEB" stroke-width="0.8"/>
<line x1="169.2" y1="339.3" x2="169.2" y2="371.6" stroke="#EBEBEB" stroke-width="0.8"/>
<line x1="242.6" y1="339.3" x2="242.6" y2="371.6" stroke="#EBEBEB" stroke-width="0.8"/>
<line x1="316" y1="339.3" x2="316" y2="371.6" stroke="#EBEBEB" stroke-width="0.8"/>
<line x1="389.4" y1="339.3" x2="389.4" y2="371.6" stroke="#EBEBEB" stroke-width="0.8"/>
<line x1="41.3" y1="370.7" x2="445.3" y2="370.7" stroke="#EBEBEB" stroke-width="0.8"/>
<line x1="41.3" y1="360.95" x2="445.3" y2="360.95" stroke="#EBEBEB" stroke-width="0.8"/>
<line x1="41.3" y1="351.2" x2="445.3" y2="351.2" stroke="#EBEBEB" stroke-width="0.8"/>
<line x1="41.3" y1="341.45" x2="445.3" y2="341.45" stroke="#EBEBEB" stroke-width="0.8"/>
<line x1="41.3" y1="365.83" x2="445.3" y2="365.83" stroke="#EBEBEB" stroke-width="0.8"/>
<line x1="41.3" y1="356.08" x2="445.3" y2="356.08" stroke="#EBEBEB" stroke-width="0.8"/>
<line x1="41.3" y1="346.33" x2="445.3" y2="346.33" stroke="#EBEBEB" stroke-width="0.8"/>
<rect x="41.3" y="339.3" width="404" height="32.3" fill="none" stroke="#8a8a8a" stroke-width="1.3"/>
<rect x="445.3" y="339.3" width="17.3" height="32.3" fill="#D9D9D9" stroke="#8a8a8a" stroke-width="1.3"/>
<text transform="translate(453.55 355.65) rotate(90) scale(1 0.88)" y="2.05" text-anchor="middle" font-size="7.9" fill="#1a1a1a">push</text>
<rect x="52.49" y="359.00" width="6.61" height="12.10" fill="#F8766D"/>
<rect x="67.17" y="367.00" width="6.61" height="4.11" fill="#F8766D"/>
<rect x="81.85" y="368.95" width="6.61" height="2.15" fill="#F8766D"/>
<rect x="96.53" y="370.12" width="6.61" height="0.98" fill="#F8766D"/>
<rect x="111.21" y="370.51" width="6.61" height="0.59" fill="#F8766D"/>
<rect x="59.10" y="359.20" width="6.61" height="11.90" fill="#00BFC4"/>
<rect x="73.78" y="366.02" width="6.61" height="5.08" fill="#00BFC4"/>
<rect x="88.46" y="370.12" width="6.61" height="0.98" fill="#00BFC4"/>
<rect x="103.14" y="370.51" width="6.61" height="0.59" fill="#00BFC4"/>
<rect x="117.82" y="370.60" width="6.61" height="0.50" fill="#00BFC4"/>
<path d="M59.50,367.10 C59.75,366.25 60.48,363.77 61.00,362.00 C61.52,360.23 62.08,357.82 62.60,356.50 C63.12,355.18 63.53,354.38 64.10,354.10 C64.67,353.82 65.33,354.30 66.00,354.80 C66.67,355.30 67.43,356.30 68.10,357.10 C68.77,357.90 69.33,358.93 70.00,359.60 C70.67,360.27 71.27,360.47 72.10,361.10 C72.93,361.73 74.00,362.73 75.00,363.40 C76.00,364.07 76.58,364.42 78.10,365.10 C79.62,365.78 81.77,366.83 84.10,367.50 C86.43,368.17 89.42,368.73 92.10,369.10 C94.78,369.47 97.22,369.52 100.20,369.70 C103.18,369.88 105.03,370.05 110.00,370.20 C114.97,370.35 74.17,370.50 130.00,370.60 C185.83,370.70 392.50,370.77 445.00,370.80" fill="none" stroke="#FF0000" stroke-width="1.4" stroke-linejoin="round" stroke-linecap="butt"/>
<path d="M65.70,370.80 C65.92,370.50 66.60,369.95 67.00,369.00 C67.40,368.05 67.75,366.68 68.10,365.10 C68.45,363.52 68.77,361.52 69.10,359.50 C69.43,357.48 69.72,355.17 70.10,353.00 C70.48,350.83 71.00,348.13 71.40,346.50 C71.80,344.87 72.22,343.85 72.50,343.20 C72.78,342.55 72.82,342.58 73.10,342.60 C73.38,342.62 73.87,342.90 74.20,343.30 C74.53,343.70 74.78,344.15 75.10,345.00 C75.42,345.85 75.77,347.07 76.10,348.40 C76.43,349.73 76.70,351.43 77.10,353.00 C77.50,354.57 78.00,356.45 78.50,357.80 C79.00,359.15 79.52,360.00 80.10,361.10 C80.68,362.20 81.33,363.40 82.00,364.40 C82.67,365.40 83.27,366.43 84.10,367.10 C84.93,367.77 86.00,368.07 87.00,368.40 C88.00,368.73 87.90,368.82 90.10,369.10 C92.30,369.38 95.22,369.85 100.20,370.10 C105.18,370.35 94.97,370.48 120.00,370.60 C145.03,370.72 228.67,370.77 250.40,370.80" fill="none" stroke="#0000FF" stroke-width="1.4" stroke-linejoin="round" stroke-linecap="butt"/>
<line x1="75.50" y1="339.30" x2="75.50" y2="371.60" stroke="#000" stroke-width="1.3"/>
<line x1="38" y1="370.7" x2="41.3" y2="370.7" stroke="#333333" stroke-width="1.25"/>
<text transform="translate(34.8 373.9) scale(1.08 1)" font-size="7.4" fill="#4d4d4d" text-anchor="end">0.0</text>
<line x1="38" y1="360.95" x2="41.3" y2="360.95" stroke="#333333" stroke-width="1.25"/>
<text transform="translate(34.8 364.15) scale(1.08 1)" font-size="7.4" fill="#4d4d4d" text-anchor="end">0.5</text>
<line x1="38" y1="351.2" x2="41.3" y2="351.2" stroke="#333333" stroke-width="1.25"/>
<text transform="translate(34.8 354.4) scale(1.08 1)" font-size="7.4" fill="#4d4d4d" text-anchor="end">1.0</text>
<line x1="38" y1="341.45" x2="41.3" y2="341.45" stroke="#333333" stroke-width="1.25"/>
<text transform="translate(34.8 344.65) scale(1.08 1)" font-size="7.4" fill="#4d4d4d" text-anchor="end">1.5</text>
<rect x="41.3" y="378.9" width="404" height="32.3" fill="#fff"/>
<line x1="59.1" y1="378.9" x2="59.1" y2="411.2" stroke="#EBEBEB" stroke-width="0.8"/>
<line x1="132.5" y1="378.9" x2="132.5" y2="411.2" stroke="#EBEBEB" stroke-width="0.8"/>
<line x1="205.9" y1="378.9" x2="205.9" y2="411.2" stroke="#EBEBEB" stroke-width="0.8"/>
<line x1="279.3" y1="378.9" x2="279.3" y2="411.2" stroke="#EBEBEB" stroke-width="0.8"/>
<line x1="352.7" y1="378.9" x2="352.7" y2="411.2" stroke="#EBEBEB" stroke-width="0.8"/>
<line x1="426.1" y1="378.9" x2="426.1" y2="411.2" stroke="#EBEBEB" stroke-width="0.8"/>
<line x1="95.8" y1="378.9" x2="95.8" y2="411.2" stroke="#EBEBEB" stroke-width="0.8"/>
<line x1="169.2" y1="378.9" x2="169.2" y2="411.2" stroke="#EBEBEB" stroke-width="0.8"/>
<line x1="242.6" y1="378.9" x2="242.6" y2="411.2" stroke="#EBEBEB" stroke-width="0.8"/>
<line x1="316" y1="378.9" x2="316" y2="411.2" stroke="#EBEBEB" stroke-width="0.8"/>
<line x1="389.4" y1="378.9" x2="389.4" y2="411.2" stroke="#EBEBEB" stroke-width="0.8"/>
<line x1="41.3" y1="410.3" x2="445.3" y2="410.3" stroke="#EBEBEB" stroke-width="0.8"/>
<line x1="41.3" y1="400.55" x2="445.3" y2="400.55" stroke="#EBEBEB" stroke-width="0.8"/>
<line x1="41.3" y1="390.8" x2="445.3" y2="390.8" stroke="#EBEBEB" stroke-width="0.8"/>
<line x1="41.3" y1="381.05" x2="445.3" y2="381.05" stroke="#EBEBEB" stroke-width="0.8"/>
<line x1="41.3" y1="405.43" x2="445.3" y2="405.43" stroke="#EBEBEB" stroke-width="0.8"/>
<line x1="41.3" y1="395.68" x2="445.3" y2="395.68" stroke="#EBEBEB" stroke-width="0.8"/>
<line x1="41.3" y1="385.93" x2="445.3" y2="385.93" stroke="#EBEBEB" stroke-width="0.8"/>
<rect x="41.3" y="378.9" width="404" height="32.3" fill="none" stroke="#8a8a8a" stroke-width="1.3"/>
<rect x="445.3" y="378.9" width="17.3" height="32.3" fill="#D9D9D9" stroke="#8a8a8a" stroke-width="1.3"/>
<text transform="translate(453.55 395.25) rotate(90) scale(1 0.88)" y="2.05" text-anchor="middle" font-size="7.9" fill="#1a1a1a">pushpull</text>
<rect x="52.49" y="399.19" width="6.61" height="11.51" fill="#F8766D"/>
<rect x="67.17" y="406.01" width="6.61" height="4.69" fill="#F8766D"/>
<rect x="81.85" y="408.74" width="6.61" height="1.96" fill="#F8766D"/>
<rect x="96.53" y="409.91" width="6.61" height="0.79" fill="#F8766D"/>
<rect x="111.21" y="410.11" width="6.61" height="0.59" fill="#F8766D"/>
<rect x="59.10" y="398.99" width="6.61" height="11.71" fill="#00BFC4"/>
<rect x="73.78" y="405.04" width="6.61" height="5.67" fill="#00BFC4"/>
<rect x="88.46" y="409.72" width="6.61" height="0.98" fill="#00BFC4"/>
<rect x="103.14" y="410.11" width="6.61" height="0.59" fill="#00BFC4"/>
<rect x="117.82" y="410.20" width="6.61" height="0.50" fill="#00BFC4"/>
<path d="M59.50,406.10 C59.75,405.17 60.48,402.40 61.00,400.50 C61.52,398.60 62.08,396.03 62.60,394.70 C63.12,393.37 63.53,392.73 64.10,392.50 C64.67,392.27 65.33,392.70 66.00,393.30 C66.67,393.90 67.43,395.10 68.10,396.10 C68.77,397.10 69.33,398.47 70.00,399.30 C70.67,400.13 71.27,400.32 72.10,401.10 C72.93,401.88 74.00,403.22 75.00,404.00 C76.00,404.78 76.58,405.17 78.10,405.80 C79.62,406.43 81.77,407.27 84.10,407.80 C86.43,408.33 89.42,408.70 92.10,409.00 C94.78,409.30 97.22,409.45 100.20,409.60 C103.18,409.75 105.03,409.80 110.00,409.90 C114.97,410.00 74.17,410.12 130.00,410.20 C185.83,410.28 392.50,410.37 445.00,410.40" fill="none" stroke="#FF0000" stroke-width="1.4" stroke-linejoin="round" stroke-linecap="butt"/>
<path d="M65.10,410.40 C65.33,409.92 66.00,409.55 66.50,407.50 C67.00,405.45 67.67,400.68 68.10,398.10 C68.53,395.52 68.77,394.02 69.10,392.00 C69.43,389.98 69.77,387.75 70.10,386.00 C70.43,384.25 70.77,382.57 71.10,381.50 C71.43,380.43 71.77,379.80 72.10,379.60 C72.43,379.40 72.77,379.90 73.10,380.30 C73.43,380.70 73.77,381.13 74.10,382.00 C74.43,382.87 74.77,384.17 75.10,385.50 C75.43,386.83 75.70,388.42 76.10,390.00 C76.50,391.58 77.00,393.33 77.50,395.00 C78.00,396.67 78.60,398.67 79.10,400.00 C79.60,401.33 80.00,401.98 80.50,403.00 C81.00,404.02 81.35,405.30 82.10,406.10 C82.85,406.90 84.00,407.38 85.00,407.80 C86.00,408.22 86.43,408.32 88.10,408.60 C89.77,408.88 91.35,409.25 95.00,409.50 C98.65,409.75 100.83,409.97 110.00,410.10 C119.17,410.23 131.57,410.25 150.00,410.30 C168.43,410.35 208.83,410.38 220.60,410.40" fill="none" stroke="#0000FF" stroke-width="1.4" stroke-linejoin="round" stroke-linecap="butt"/>
<line x1="74.50" y1="378.90" x2="74.50" y2="411.20" stroke="#000" stroke-width="1.3"/>
<line x1="38" y1="410.3" x2="41.3" y2="410.3" stroke="#333333" stroke-width="1.25"/>
<text transform="translate(34.8 413.5) scale(1.08 1)" font-size="7.4" fill="#4d4d4d" text-anchor="end">0.0</text>
<line x1="38" y1="400.55" x2="41.3" y2="400.55" stroke="#333333" stroke-width="1.25"/>
<text transform="translate(34.8 403.75) scale(1.08 1)" font-size="7.4" fill="#4d4d4d" text-anchor="end">0.5</text>
<line x1="38" y1="390.8" x2="41.3" y2="390.8" stroke="#333333" stroke-width="1.25"/>
<text transform="translate(34.8 394) scale(1.08 1)" font-size="7.4" fill="#4d4d4d" text-anchor="end">1.0</text>
<line x1="38" y1="381.05" x2="41.3" y2="381.05" stroke="#333333" stroke-width="1.25"/>
<text transform="translate(34.8 384.25) scale(1.08 1)" font-size="7.4" fill="#4d4d4d" text-anchor="end">1.5</text>
<line x1="59.1" y1="411.2" x2="59.1" y2="414.8" stroke="#333333" stroke-width="1.25"/>
<text transform="translate(59.4 425.2) scale(0.94 1)" font-size="10.4" fill="#4d4d4d" text-anchor="middle">0</text>
<line x1="132.5" y1="411.2" x2="132.5" y2="414.8" stroke="#333333" stroke-width="1.25"/>
<text transform="translate(132.8 425.2) scale(0.94 1)" font-size="10.4" fill="#4d4d4d" text-anchor="middle">5</text>
<line x1="205.9" y1="411.2" x2="205.9" y2="414.8" stroke="#333333" stroke-width="1.25"/>
<text transform="translate(206.2 425.2) scale(0.94 1)" font-size="10.4" fill="#4d4d4d" text-anchor="middle">10</text>
<line x1="279.3" y1="411.2" x2="279.3" y2="414.8" stroke="#333333" stroke-width="1.25"/>
<text transform="translate(279.6 425.2) scale(0.94 1)" font-size="10.4" fill="#4d4d4d" text-anchor="middle">15</text>
<line x1="352.7" y1="411.2" x2="352.7" y2="414.8" stroke="#333333" stroke-width="1.25"/>
<text transform="translate(353 425.2) scale(0.94 1)" font-size="10.4" fill="#4d4d4d" text-anchor="middle">20</text>
<line x1="426.1" y1="411.2" x2="426.1" y2="414.8" stroke="#333333" stroke-width="1.25"/>
<text transform="translate(426.4 425.2) scale(0.94 1)" font-size="10.4" fill="#4d4d4d" text-anchor="middle">25</text>
<text transform="translate(243.3 439.8)" font-size="12.6" fill="#000" text-anchor="middle">mosquito count</text>
<text transform="translate(19.1 335.65) rotate(-90)" font-size="10.2" fill="#000" text-anchor="middle">relative frequency / density</text>
<rect x="498.9" y="299.4" width="177.5" height="32.1" fill="#fff"/>
<line x1="506.7" y1="299.4" x2="506.7" y2="331.5" stroke="#EBEBEB" stroke-width="0.8"/>
<line x1="547.2" y1="299.4" x2="547.2" y2="331.5" stroke="#EBEBEB" stroke-width="0.8"/>
<line x1="587.7" y1="299.4" x2="587.7" y2="331.5" stroke="#EBEBEB" stroke-width="0.8"/>
<line x1="628.2" y1="299.4" x2="628.2" y2="331.5" stroke="#EBEBEB" stroke-width="0.8"/>
<line x1="668.7" y1="299.4" x2="668.7" y2="331.5" stroke="#EBEBEB" stroke-width="0.8"/>
<line x1="526.95" y1="299.4" x2="526.95" y2="331.5" stroke="#EBEBEB" stroke-width="0.8"/>
<line x1="567.45" y1="299.4" x2="567.45" y2="331.5" stroke="#EBEBEB" stroke-width="0.8"/>
<line x1="607.95" y1="299.4" x2="607.95" y2="331.5" stroke="#EBEBEB" stroke-width="0.8"/>
<line x1="648.45" y1="299.4" x2="648.45" y2="331.5" stroke="#EBEBEB" stroke-width="0.8"/>
<line x1="498.9" y1="330.7" x2="676.4" y2="330.7" stroke="#EBEBEB" stroke-width="0.8"/>
<line x1="498.9" y1="315.64" x2="676.4" y2="315.64" stroke="#EBEBEB" stroke-width="0.8"/>
<line x1="498.9" y1="300.58" x2="676.4" y2="300.58" stroke="#EBEBEB" stroke-width="0.8"/>
<line x1="498.9" y1="323.17" x2="676.4" y2="323.17" stroke="#EBEBEB" stroke-width="0.8"/>
<line x1="498.9" y1="308.11" x2="676.4" y2="308.11" stroke="#EBEBEB" stroke-width="0.8"/>
<rect x="498.9" y="299.4" width="177.5" height="32.1" fill="none" stroke="#8a8a8a" stroke-width="1.3"/>
<rect x="676.4" y="299.4" width="18.9" height="32.1" fill="#D9D9D9" stroke="#8a8a8a" stroke-width="1.3"/>
<text transform="translate(685.45 315.65) rotate(90) scale(1 0.88)" y="2.05" text-anchor="middle" font-size="7.9" fill="#1a1a1a">pull</text>
<path d="M498.98,330.72 C502.73,330.69 514.66,330.65 521.50,330.53 C528.35,330.42 533.64,330.38 540.06,330.06 C546.47,329.74 555.42,329.04 559.99,328.60 C564.56,328.16 564.99,327.91 567.49,327.41 C569.99,326.91 572.47,326.54 574.99,325.61 C577.51,324.67 580.08,322.95 582.60,321.82 C585.11,320.68 587.60,319.53 590.10,318.79 C592.60,318.06 595.34,317.52 597.60,317.39 C599.85,317.26 601.61,317.51 603.61,318.00 C605.61,318.48 607.59,319.29 609.60,320.30 C611.62,321.32 613.43,322.96 615.70,324.09 C617.97,325.23 620.45,326.29 623.20,327.09 C625.95,327.89 628.71,328.44 632.21,328.89 C635.71,329.34 639.18,329.54 644.19,329.79 C649.21,330.04 659.28,330.30 662.29,330.40" fill="none" stroke="#FF0000" stroke-width="1.4" stroke-linejoin="round" stroke-linecap="butt"/>
<path d="M498.98,330.72 C502.73,330.71 514.22,330.73 521.50,330.67 C528.79,330.60 536.29,330.47 542.71,330.32 C549.12,330.18 555.86,330.21 559.99,329.79 C564.12,329.37 564.99,328.56 567.49,327.80 C569.99,327.05 572.72,326.40 574.99,325.29 C577.26,324.17 579.09,322.57 581.11,321.10 C583.13,319.63 585.24,317.70 587.10,316.49 C588.97,315.27 590.55,314.56 592.30,313.81 C594.05,313.06 595.96,312.11 597.60,312.01 C599.23,311.91 600.60,312.32 602.10,313.20 C603.61,314.08 605.11,315.74 606.61,317.31 C608.11,318.88 609.32,320.86 611.09,322.61 C612.85,324.36 615.19,326.55 617.21,327.80 C619.23,329.06 620.57,329.63 623.20,330.11 C625.83,330.59 631.37,330.60 633.01,330.69" fill="none" stroke="#0000FF" stroke-width="1.4" stroke-linejoin="round" stroke-linecap="butt"/>
<line x1="592.00" y1="299.40" x2="592.00" y2="331.50" stroke="#000" stroke-width="1.3"/>
<line x1="495.6" y1="330.7" x2="498.9" y2="330.7" stroke="#333333" stroke-width="1.25"/>
<text transform="translate(492.7 334.1) scale(0.92 1)" font-size="9.2" fill="#4d4d4d" text-anchor="end">0</text>
<line x1="495.6" y1="315.64" x2="498.9" y2="315.64" stroke="#333333" stroke-width="1.25"/>
<text transform="translate(492.7 319.04) scale(0.92 1)" font-size="9.2" fill="#4d4d4d" text-anchor="end">2</text>
<line x1="495.6" y1="300.58" x2="498.9" y2="300.58" stroke="#333333" stroke-width="1.25"/>
<text transform="translate(492.7 303.98) scale(0.92 1)" font-size="9.2" fill="#4d4d4d" text-anchor="end">4</text>
<rect x="498.9" y="338.6" width="177.5" height="32.1" fill="#fff"/>
<line x1="506.7" y1="338.6" x2="506.7" y2="370.7" stroke="#EBEBEB" stroke-width="0.8"/>
<line x1="547.2" y1="338.6" x2="547.2" y2="370.7" stroke="#EBEBEB" stroke-width="0.8"/>
<line x1="587.7" y1="338.6" x2="587.7" y2="370.7" stroke="#EBEBEB" stroke-width="0.8"/>
<line x1="628.2" y1="338.6" x2="628.2" y2="370.7" stroke="#EBEBEB" stroke-width="0.8"/>
<line x1="668.7" y1="338.6" x2="668.7" y2="370.7" stroke="#EBEBEB" stroke-width="0.8"/>
<line x1="526.95" y1="338.6" x2="526.95" y2="370.7" stroke="#EBEBEB" stroke-width="0.8"/>
<line x1="567.45" y1="338.6" x2="567.45" y2="370.7" stroke="#EBEBEB" stroke-width="0.8"/>
<line x1="607.95" y1="338.6" x2="607.95" y2="370.7" stroke="#EBEBEB" stroke-width="0.8"/>
<line x1="648.45" y1="338.6" x2="648.45" y2="370.7" stroke="#EBEBEB" stroke-width="0.8"/>
<line x1="498.9" y1="369.9" x2="676.4" y2="369.9" stroke="#EBEBEB" stroke-width="0.8"/>
<line x1="498.9" y1="354.84" x2="676.4" y2="354.84" stroke="#EBEBEB" stroke-width="0.8"/>
<line x1="498.9" y1="339.78" x2="676.4" y2="339.78" stroke="#EBEBEB" stroke-width="0.8"/>
<line x1="498.9" y1="362.37" x2="676.4" y2="362.37" stroke="#EBEBEB" stroke-width="0.8"/>
<line x1="498.9" y1="347.31" x2="676.4" y2="347.31" stroke="#EBEBEB" stroke-width="0.8"/>
<rect x="498.9" y="338.6" width="177.5" height="32.1" fill="none" stroke="#8a8a8a" stroke-width="1.3"/>
<rect x="676.4" y="338.6" width="18.9" height="32.1" fill="#D9D9D9" stroke="#8a8a8a" stroke-width="1.3"/>
<text transform="translate(685.45 354.85) rotate(90) scale(1 0.88)" y="2.05" text-anchor="middle" font-size="7.9" fill="#1a1a1a">push</text>
<path d="M498.98,369.46 C507.15,369.41 535.42,369.32 548.01,369.19 C560.60,369.06 567.89,368.86 574.51,368.66 C581.14,368.46 584.35,368.17 587.76,368.00 C591.18,367.82 592.96,368.00 595.00,367.60 C597.04,367.20 598.34,366.28 600.01,365.61 C601.67,364.95 603.33,364.43 604.99,363.60 C606.66,362.76 608.32,361.69 610.00,360.60 C611.68,359.52 613.57,358.12 615.09,357.10 C616.61,356.09 617.93,355.36 619.09,354.51 C620.26,353.65 621.17,352.61 622.09,351.99 C623.00,351.37 623.74,350.88 624.58,350.80 C625.41,350.72 626.18,351.15 627.10,351.51 C628.02,351.88 628.93,352.15 630.09,353.00 C631.26,353.84 632.59,355.17 634.09,356.60 C635.60,358.04 637.43,360.19 639.10,361.61 C640.77,363.03 642.26,364.11 644.11,365.11 C645.96,366.11 648.03,366.93 650.21,367.60 C652.39,368.27 654.87,368.75 657.21,369.11 C659.54,369.47 663.04,369.66 664.20,369.77" fill="none" stroke="#FF0000" stroke-width="1.4" stroke-linejoin="round" stroke-linecap="butt"/>
<path d="M498.98,369.46 C507.15,369.43 535.42,369.39 548.01,369.32 C560.60,369.26 567.89,369.17 574.51,369.06 C581.14,368.95 584.35,368.82 587.76,368.66 C591.18,368.50 592.96,368.45 595.00,368.10 C597.04,367.76 598.34,367.23 600.01,366.59 C601.67,365.96 603.33,365.29 604.99,364.29 C606.66,363.29 608.48,362.05 610.00,360.60 C611.52,359.15 612.93,357.36 614.11,355.59 C615.29,353.83 616.11,351.68 617.10,350.00 C618.10,348.32 619.27,346.75 620.10,345.50 C620.93,344.25 621.25,342.75 622.09,342.50 C622.92,342.25 624.11,343.34 625.11,344.01 C626.11,344.68 627.11,345.34 628.10,346.50 C629.10,347.67 630.10,349.24 631.10,351.01 C632.10,352.78 633.10,355.09 634.09,357.10 C635.09,359.12 636.09,361.35 637.09,363.09 C638.09,364.84 639.11,366.54 640.11,367.60 C641.11,368.66 642.01,369.09 643.10,369.46 C644.20,369.82 646.11,369.72 646.71,369.77" fill="none" stroke="#0000FF" stroke-width="1.4" stroke-linejoin="round" stroke-linecap="butt"/>
<line x1="620.60" y1="338.60" x2="620.60" y2="370.70" stroke="#000" stroke-width="1.3"/>
<line x1="495.6" y1="369.9" x2="498.9" y2="369.9" stroke="#333333" stroke-width="1.25"/>
<text transform="translate(492.7 373.3) scale(0.92 1)" font-size="9.2" fill="#4d4d4d" text-anchor="end">0</text>
<line x1="495.6" y1="354.84" x2="498.9" y2="354.84" stroke="#333333" stroke-width="1.25"/>
<text transform="translate(492.7 358.24) scale(0.92 1)" font-size="9.2" fill="#4d4d4d" text-anchor="end">2</text>
<line x1="495.6" y1="339.78" x2="498.9" y2="339.78" stroke="#333333" stroke-width="1.25"/>
<text transform="translate(492.7 343.18) scale(0.92 1)" font-size="9.2" fill="#4d4d4d" text-anchor="end">4</text>
<rect x="498.9" y="378.5" width="177.5" height="32.1" fill="#fff"/>
<line x1="506.7" y1="378.5" x2="506.7" y2="410.6" stroke="#EBEBEB" stroke-width="0.8"/>
<line x1="547.2" y1="378.5" x2="547.2" y2="410.6" stroke="#EBEBEB" stroke-width="0.8"/>
<line x1="587.7" y1="378.5" x2="587.7" y2="410.6" stroke="#EBEBEB" stroke-width="0.8"/>
<line x1="628.2" y1="378.5" x2="628.2" y2="410.6" stroke="#EBEBEB" stroke-width="0.8"/>
<line x1="668.7" y1="378.5" x2="668.7" y2="410.6" stroke="#EBEBEB" stroke-width="0.8"/>
<line x1="526.95" y1="378.5" x2="526.95" y2="410.6" stroke="#EBEBEB" stroke-width="0.8"/>
<line x1="567.45" y1="378.5" x2="567.45" y2="410.6" stroke="#EBEBEB" stroke-width="0.8"/>
<line x1="607.95" y1="378.5" x2="607.95" y2="410.6" stroke="#EBEBEB" stroke-width="0.8"/>
<line x1="648.45" y1="378.5" x2="648.45" y2="410.6" stroke="#EBEBEB" stroke-width="0.8"/>
<line x1="498.9" y1="409.8" x2="676.4" y2="409.8" stroke="#EBEBEB" stroke-width="0.8"/>
<line x1="498.9" y1="394.74" x2="676.4" y2="394.74" stroke="#EBEBEB" stroke-width="0.8"/>
<line x1="498.9" y1="379.68" x2="676.4" y2="379.68" stroke="#EBEBEB" stroke-width="0.8"/>
<line x1="498.9" y1="402.27" x2="676.4" y2="402.27" stroke="#EBEBEB" stroke-width="0.8"/>
<line x1="498.9" y1="387.21" x2="676.4" y2="387.21" stroke="#EBEBEB" stroke-width="0.8"/>
<rect x="498.9" y="378.5" width="177.5" height="32.1" fill="none" stroke="#8a8a8a" stroke-width="1.3"/>
<rect x="676.4" y="378.5" width="18.9" height="32.1" fill="#D9D9D9" stroke="#8a8a8a" stroke-width="1.3"/>
<text transform="translate(685.45 394.75) rotate(90) scale(1 0.88)" y="2.05" text-anchor="middle" font-size="7.9" fill="#1a1a1a">pushpull</text>
<path d="M498.98,408.93 C507.15,408.90 535.42,408.88 548.01,408.79 C560.60,408.70 567.89,408.57 574.51,408.40 C581.14,408.22 584.35,407.98 587.76,407.73 C591.18,407.49 592.80,407.26 595.00,406.91 C597.20,406.56 598.99,406.12 600.99,405.61 C602.99,405.11 605.34,404.56 607.01,403.89 C608.68,403.22 609.49,402.66 611.01,401.61 C612.52,400.56 614.41,398.86 616.10,397.61 C617.78,396.36 619.60,395.21 621.11,394.11 C622.61,393.01 623.77,391.83 625.11,391.01 C626.44,390.19 628.03,389.37 629.11,389.21 C630.19,389.04 630.69,389.37 631.60,390.00 C632.52,390.63 633.51,391.81 634.60,393.00 C635.68,394.18 636.68,395.59 638.10,397.10 C639.51,398.62 641.42,400.67 643.10,402.09 C644.79,403.51 646.18,404.64 648.19,405.61 C650.21,406.58 652.52,407.31 655.19,407.89 C657.86,408.47 662.70,408.91 664.20,409.11" fill="none" stroke="#FF0000" stroke-width="1.4" stroke-linejoin="round" stroke-linecap="butt"/>
<path d="M498.98,408.93 C507.15,408.90 535.42,408.86 548.01,408.79 C560.60,408.73 567.89,408.64 574.51,408.53 C581.14,408.42 584.35,408.28 587.76,408.13 C591.18,407.98 592.80,407.94 595.00,407.60 C597.20,407.26 598.99,406.76 600.99,406.09 C602.99,405.42 605.34,404.51 607.01,403.60 C608.68,402.68 609.66,402.02 611.01,400.60 C612.36,399.18 613.74,397.02 615.09,395.09 C616.44,393.16 617.93,390.76 619.09,388.99 C620.26,387.23 621.17,385.90 622.09,384.49 C623.01,383.07 623.85,381.40 624.61,380.51 C625.36,379.63 625.93,379.27 626.59,379.19 C627.26,379.10 627.94,379.29 628.61,380.01 C629.27,380.73 629.93,381.93 630.60,383.51 C631.26,385.09 631.86,387.23 632.61,389.50 C633.36,391.76 634.19,394.75 635.10,397.10 C636.02,399.45 637.10,401.85 638.10,403.60 C639.09,405.35 639.74,406.68 641.09,407.60 C642.44,408.52 645.35,408.86 646.21,409.11" fill="none" stroke="#0000FF" stroke-width="1.4" stroke-linejoin="round" stroke-linecap="butt"/>
<line x1="623.10" y1="378.50" x2="623.10" y2="410.60" stroke="#000" stroke-width="1.3"/>
<line x1="495.6" y1="409.8" x2="498.9" y2="409.8" stroke="#333333" stroke-width="1.25"/>
<text transform="translate(492.7 413.2) scale(0.92 1)" font-size="9.2" fill="#4d4d4d" text-anchor="end">0</text>
<line x1="495.6" y1="394.74" x2="498.9" y2="394.74" stroke="#333333" stroke-width="1.25"/>
<text transform="translate(492.7 398.14) scale(0.92 1)" font-size="9.2" fill="#4d4d4d" text-anchor="end">2</text>
<line x1="495.6" y1="379.68" x2="498.9" y2="379.68" stroke="#333333" stroke-width="1.25"/>
<text transform="translate(492.7 383.08) scale(0.92 1)" font-size="9.2" fill="#4d4d4d" text-anchor="end">4</text>
<line x1="506.7" y1="410.6" x2="506.7" y2="414.2" stroke="#333333" stroke-width="1.25"/>
<text transform="translate(507 424.2) scale(0.9 1)" font-size="11.5" fill="#4d4d4d" text-anchor="middle">-1.0</text>
<line x1="547.2" y1="410.6" x2="547.2" y2="414.2" stroke="#333333" stroke-width="1.25"/>
<text transform="translate(547.5 424.2) scale(0.9 1)" font-size="11.5" fill="#4d4d4d" text-anchor="middle">-0.5</text>
<line x1="587.7" y1="410.6" x2="587.7" y2="414.2" stroke="#333333" stroke-width="1.25"/>
<text transform="translate(588 424.2) scale(0.9 1)" font-size="11.5" fill="#4d4d4d" text-anchor="middle">0.0</text>
<line x1="628.2" y1="410.6" x2="628.2" y2="414.2" stroke="#333333" stroke-width="1.25"/>
<text transform="translate(628.5 424.2) scale(0.9 1)" font-size="11.5" fill="#4d4d4d" text-anchor="middle">0.5</text>
<line x1="668.7" y1="410.6" x2="668.7" y2="414.2" stroke="#333333" stroke-width="1.25"/>
<text transform="translate(669 424.2) scale(0.9 1)" font-size="11.5" fill="#4d4d4d" text-anchor="middle">1.0</text>
<text transform="translate(587.65 439.4)" font-size="12.45" fill="#000" text-anchor="middle">protective efficacy</text>
<text transform="translate(482.8 352.4) rotate(-90)" font-size="10.5" fill="#000" text-anchor="middle">density</text>
<text transform="translate(352.7 471.6)" font-size="15.3" text-anchor="middle" font-weight="bold" font-style="italic" fill="#000" stroke="#000" stroke-width="0.3">Culex spp.</text>
<text transform="translate(2.5 493.5) scale(0.95 1)" font-size="15.5" fill="#000" font-weight="bold">A3</text>
<text transform="translate(472.2 493.8) scale(0.93 1)" font-size="15.5" fill="#000" font-weight="bold">B3</text>
<rect x="41.3" y="486.4" width="404" height="32.6" fill="#fff"/>
<line x1="59.8" y1="486.4" x2="59.8" y2="519" stroke="#EBEBEB" stroke-width="0.8"/>
<line x1="133.3" y1="486.4" x2="133.3" y2="519" stroke="#EBEBEB" stroke-width="0.8"/>
<line x1="206.8" y1="486.4" x2="206.8" y2="519" stroke="#EBEBEB" stroke-width="0.8"/>
<line x1="280.3" y1="486.4" x2="280.3" y2="519" stroke="#EBEBEB" stroke-width="0.8"/>
<line x1="353.8" y1="486.4" x2="353.8" y2="519" stroke="#EBEBEB" stroke-width="0.8"/>
<line x1="427.3" y1="486.4" x2="427.3" y2="519" stroke="#EBEBEB" stroke-width="0.8"/>
<line x1="96.55" y1="486.4" x2="96.55" y2="519" stroke="#EBEBEB" stroke-width="0.8"/>
<line x1="170.05" y1="486.4" x2="170.05" y2="519" stroke="#EBEBEB" stroke-width="0.8"/>
<line x1="243.55" y1="486.4" x2="243.55" y2="519" stroke="#EBEBEB" stroke-width="0.8"/>
<line x1="317.05" y1="486.4" x2="317.05" y2="519" stroke="#EBEBEB" stroke-width="0.8"/>
<line x1="390.55" y1="486.4" x2="390.55" y2="519" stroke="#EBEBEB" stroke-width="0.8"/>
<line x1="41.3" y1="517.9" x2="445.3" y2="517.9" stroke="#EBEBEB" stroke-width="0.8"/>
<line x1="41.3" y1="500.2" x2="445.3" y2="500.2" stroke="#EBEBEB" stroke-width="0.8"/>
<line x1="41.3" y1="509.05" x2="445.3" y2="509.05" stroke="#EBEBEB" stroke-width="0.8"/>
<line x1="41.3" y1="491.35" x2="445.3" y2="491.35" stroke="#EBEBEB" stroke-width="0.8"/>
<rect x="41.3" y="486.4" width="404" height="32.6" fill="none" stroke="#8a8a8a" stroke-width="1.3"/>
<rect x="445.3" y="486.4" width="17.3" height="32.6" fill="#D9D9D9" stroke="#8a8a8a" stroke-width="1.3"/>
<text transform="translate(453.55 502.9) rotate(90) scale(1 0.88)" y="2.05" text-anchor="middle" font-size="7.9" fill="#1a1a1a">control</text>
<rect x="53.18" y="509.05" width="6.62" height="9.25" fill="#F8766D"/>
<rect x="67.89" y="514.01" width="6.62" height="4.29" fill="#F8766D"/>
<rect x="82.58" y="515.95" width="6.62" height="2.35" fill="#F8766D"/>
<rect x="97.28" y="517.19" width="6.62" height="1.11" fill="#F8766D"/>
<rect x="111.98" y="517.72" width="6.62" height="0.58" fill="#F8766D"/>
<rect x="59.80" y="509.76" width="6.62" height="8.54" fill="#00BFC4"/>
<rect x="74.50" y="514.54" width="6.62" height="3.76" fill="#00BFC4"/>
<rect x="89.20" y="516.13" width="6.62" height="2.17" fill="#00BFC4"/>
<rect x="103.90" y="517.37" width="6.62" height="0.93" fill="#00BFC4"/>
<rect x="118.60" y="517.72" width="6.62" height="0.58" fill="#00BFC4"/>
<path d="M59.50,514.10 C59.83,513.50 60.83,511.47 61.50,510.50 C62.17,509.53 62.90,508.77 63.50,508.30 C64.10,507.83 64.43,507.72 65.10,507.70 C65.77,507.68 66.67,507.88 67.50,508.20 C68.33,508.52 69.18,509.13 70.10,509.60 C71.02,510.07 72.00,510.58 73.00,511.00 C74.00,511.42 74.58,511.57 76.10,512.10 C77.62,512.63 79.77,513.58 82.10,514.20 C84.43,514.82 87.08,515.33 90.10,515.80 C93.12,516.27 96.88,516.72 100.20,517.00 C103.52,517.28 105.03,517.35 110.00,517.50 C114.97,517.65 74.17,517.82 130.00,517.90 C185.83,517.98 392.50,517.98 445.00,518.00" fill="none" stroke="#FF0000" stroke-width="1.4" stroke-linejoin="round" stroke-linecap="butt"/>
<path d="M69.10,518.10 C69.50,517.92 70.67,517.83 71.50,517.00 C72.33,516.17 73.35,514.17 74.10,513.10 C74.85,512.03 75.33,511.27 76.00,510.60 C76.67,509.93 77.35,509.67 78.10,509.10 C78.85,508.53 79.67,507.70 80.50,507.20 C81.33,506.70 82.27,506.22 83.10,506.10 C83.93,505.98 84.67,506.23 85.50,506.50 C86.33,506.77 87.35,507.28 88.10,507.70 C88.85,508.12 89.33,508.43 90.00,509.00 C90.67,509.57 91.43,510.47 92.10,511.10 C92.77,511.73 93.32,512.30 94.00,512.80 C94.68,513.30 95.37,513.63 96.20,514.10 C97.03,514.57 98.00,515.27 99.00,515.60 C100.00,515.93 101.03,515.87 102.20,516.10 C103.37,516.33 104.67,516.80 106.00,517.00 C107.33,517.20 107.03,517.17 110.20,517.30 C113.37,517.43 118.37,517.68 125.00,517.80 C131.63,517.92 96.67,517.95 150.00,518.00 C203.33,518.05 395.83,518.08 445.00,518.10" fill="none" stroke="#0000FF" stroke-width="1.4" stroke-linejoin="round" stroke-linecap="butt"/>
<line x1="91.50" y1="486.40" x2="91.50" y2="519.00" stroke="#000" stroke-width="1.3"/>
<line x1="38" y1="517.9" x2="41.3" y2="517.9" stroke="#333333" stroke-width="1.25"/>
<text transform="translate(35.4 520.7)" font-size="7.4" fill="#4d4d4d" text-anchor="end">0</text>
<line x1="38" y1="500.2" x2="41.3" y2="500.2" stroke="#333333" stroke-width="1.25"/>
<text transform="translate(35.4 503)" font-size="7.4" fill="#4d4d4d" text-anchor="end">1</text>
<rect x="41.3" y="526.1" width="404" height="32.6" fill="#fff"/>
<line x1="59.8" y1="526.1" x2="59.8" y2="558.7" stroke="#EBEBEB" stroke-width="0.8"/>
<line x1="133.3" y1="526.1" x2="133.3" y2="558.7" stroke="#EBEBEB" stroke-width="0.8"/>
<line x1="206.8" y1="526.1" x2="206.8" y2="558.7" stroke="#EBEBEB" stroke-width="0.8"/>
<line x1="280.3" y1="526.1" x2="280.3" y2="558.7" stroke="#EBEBEB" stroke-width="0.8"/>
<line x1="353.8" y1="526.1" x2="353.8" y2="558.7" stroke="#EBEBEB" stroke-width="0.8"/>
<line x1="427.3" y1="526.1" x2="427.3" y2="558.7" stroke="#EBEBEB" stroke-width="0.8"/>
<line x1="96.55" y1="526.1" x2="96.55" y2="558.7" stroke="#EBEBEB" stroke-width="0.8"/>
<line x1="170.05" y1="526.1" x2="170.05" y2="558.7" stroke="#EBEBEB" stroke-width="0.8"/>
<line x1="243.55" y1="526.1" x2="243.55" y2="558.7" stroke="#EBEBEB" stroke-width="0.8"/>
<line x1="317.05" y1="526.1" x2="317.05" y2="558.7" stroke="#EBEBEB" stroke-width="0.8"/>
<line x1="390.55" y1="526.1" x2="390.55" y2="558.7" stroke="#EBEBEB" stroke-width="0.8"/>
<line x1="41.3" y1="557.6" x2="445.3" y2="557.6" stroke="#EBEBEB" stroke-width="0.8"/>
<line x1="41.3" y1="539.9" x2="445.3" y2="539.9" stroke="#EBEBEB" stroke-width="0.8"/>
<line x1="41.3" y1="548.75" x2="445.3" y2="548.75" stroke="#EBEBEB" stroke-width="0.8"/>
<line x1="41.3" y1="531.05" x2="445.3" y2="531.05" stroke="#EBEBEB" stroke-width="0.8"/>
<rect x="41.3" y="526.1" width="404" height="32.6" fill="none" stroke="#8a8a8a" stroke-width="1.3"/>
<rect x="445.3" y="526.1" width="17.3" height="32.6" fill="#D9D9D9" stroke="#8a8a8a" stroke-width="1.3"/>
<text transform="translate(453.55 542.6) rotate(90) scale(1 0.88)" y="2.05" text-anchor="middle" font-size="7.9" fill="#1a1a1a">pull</text>
<rect x="53.18" y="547.87" width="6.62" height="10.14" fill="#F8766D"/>
<rect x="67.89" y="555.12" width="6.62" height="2.88" fill="#F8766D"/>
<rect x="82.58" y="555.65" width="6.62" height="2.35" fill="#F8766D"/>
<rect x="97.28" y="557.07" width="6.62" height="0.93" fill="#F8766D"/>
<rect x="111.98" y="557.42" width="6.62" height="0.58" fill="#F8766D"/>
<rect x="59.80" y="547.51" width="6.62" height="10.49" fill="#00BFC4"/>
<rect x="74.50" y="554.59" width="6.62" height="3.41" fill="#00BFC4"/>
<rect x="89.20" y="556.01" width="6.62" height="1.99" fill="#00BFC4"/>
<rect x="103.90" y="557.07" width="6.62" height="0.93" fill="#00BFC4"/>
<rect x="118.60" y="557.42" width="6.62" height="0.58" fill="#00BFC4"/>
<path d="M60.00,551.70 C60.33,551.12 61.42,549.07 62.00,548.20 C62.58,547.33 63.08,546.85 63.50,546.50 C63.92,546.15 64.08,546.10 64.50,546.10 C64.92,546.10 65.42,546.22 66.00,546.50 C66.58,546.78 67.32,547.37 68.00,547.80 C68.68,548.23 69.27,548.62 70.10,549.10 C70.93,549.58 72.00,550.20 73.00,550.70 C74.00,551.20 74.58,551.53 76.10,552.10 C77.62,552.67 79.77,553.50 82.10,554.10 C84.43,554.70 87.08,555.23 90.10,555.70 C93.12,556.17 96.88,556.62 100.20,556.90 C103.52,557.18 105.03,557.25 110.00,557.40 C114.97,557.55 74.17,557.70 130.00,557.80 C185.83,557.90 392.50,557.97 445.00,558.00" fill="none" stroke="#FF0000" stroke-width="1.4" stroke-linejoin="round" stroke-linecap="butt"/>
<path d="M67.10,557.70 C67.50,557.47 68.67,557.07 69.50,556.30 C70.33,555.53 71.18,554.12 72.10,553.10 C73.02,552.08 74.00,551.03 75.00,550.20 C76.00,549.37 77.18,548.63 78.10,548.10 C79.02,547.57 79.67,547.23 80.50,547.00 C81.33,546.77 82.27,546.70 83.10,546.70 C83.93,546.70 84.67,546.83 85.50,547.00 C86.33,547.17 87.35,547.37 88.10,547.70 C88.85,548.03 89.33,548.60 90.00,549.00 C90.67,549.40 91.43,549.67 92.10,550.10 C92.77,550.53 93.32,551.20 94.00,551.60 C94.68,552.00 95.37,552.12 96.20,552.50 C97.03,552.88 98.00,553.47 99.00,553.90 C100.00,554.33 101.03,554.77 102.20,555.10 C103.37,555.43 104.67,555.67 106.00,555.90 C107.33,556.13 107.87,556.28 110.20,556.50 C112.53,556.72 115.03,557.00 120.00,557.20 C124.97,557.40 85.83,557.58 140.00,557.70 C194.17,557.82 394.17,557.87 445.00,557.90" fill="none" stroke="#0000FF" stroke-width="1.4" stroke-linejoin="round" stroke-linecap="butt"/>
<line x1="91.70" y1="526.10" x2="91.70" y2="558.70" stroke="#000" stroke-width="1.3"/>
<line x1="38" y1="557.6" x2="41.3" y2="557.6" stroke="#333333" stroke-width="1.25"/>
<text transform="translate(35.4 560.4)" font-size="7.4" fill="#4d4d4d" text-anchor="end">0</text>
<line x1="38" y1="539.9" x2="41.3" y2="539.9" stroke="#333333" stroke-width="1.25"/>
<text transform="translate(35.4 542.7)" font-size="7.4" fill="#4d4d4d" text-anchor="end">1</text>
<rect x="41.3" y="565.8" width="404" height="32.6" fill="#fff"/>
<line x1="59.8" y1="565.8" x2="59.8" y2="598.4" stroke="#EBEBEB" stroke-width="0.8"/>
<line x1="133.3" y1="565.8" x2="133.3" y2="598.4" stroke="#EBEBEB" stroke-width="0.8"/>
<line x1="206.8" y1="565.8" x2="206.8" y2="598.4" stroke="#EBEBEB" stroke-width="0.8"/>
<line x1="280.3" y1="565.8" x2="280.3" y2="598.4" stroke="#EBEBEB" stroke-width="0.8"/>
<line x1="353.8" y1="565.8" x2="353.8" y2="598.4" stroke="#EBEBEB" stroke-width="0.8"/>
<line x1="427.3" y1="565.8" x2="427.3" y2="598.4" stroke="#EBEBEB" stroke-width="0.8"/>
<line x1="96.55" y1="565.8" x2="96.55" y2="598.4" stroke="#EBEBEB" stroke-width="0.8"/>
<line x1="170.05" y1="565.8" x2="170.05" y2="598.4" stroke="#EBEBEB" stroke-width="0.8"/>
<line x1="243.55" y1="565.8" x2="243.55" y2="598.4" stroke="#EBEBEB" stroke-width="0.8"/>
<line x1="317.05" y1="565.8" x2="317.05" y2="598.4" stroke="#EBEBEB" stroke-width="0.8"/>
<line x1="390.55" y1="565.8" x2="390.55" y2="598.4" stroke="#EBEBEB" stroke-width="0.8"/>
<line x1="41.3" y1="597.3" x2="445.3" y2="597.3" stroke="#EBEBEB" stroke-width="0.8"/>
<line x1="41.3" y1="579.6" x2="445.3" y2="579.6" stroke="#EBEBEB" stroke-width="0.8"/>
<line x1="41.3" y1="588.45" x2="445.3" y2="588.45" stroke="#EBEBEB" stroke-width="0.8"/>
<line x1="41.3" y1="570.75" x2="445.3" y2="570.75" stroke="#EBEBEB" stroke-width="0.8"/>
<rect x="41.3" y="565.8" width="404" height="32.6" fill="none" stroke="#8a8a8a" stroke-width="1.3"/>
<rect x="445.3" y="565.8" width="17.3" height="32.6" fill="#D9D9D9" stroke="#8a8a8a" stroke-width="1.3"/>
<text transform="translate(453.55 582.3) rotate(90) scale(1 0.88)" y="2.05" text-anchor="middle" font-size="7.9" fill="#1a1a1a">push</text>
<rect x="53.18" y="585.44" width="6.62" height="12.26" fill="#F8766D"/>
<rect x="67.89" y="595.53" width="6.62" height="2.17" fill="#F8766D"/>
<rect x="82.58" y="596.24" width="6.62" height="1.46" fill="#F8766D"/>
<rect x="97.28" y="596.95" width="6.62" height="0.75" fill="#F8766D"/>
<rect x="111.98" y="597.12" width="6.62" height="0.58" fill="#F8766D"/>
<rect x="59.80" y="585.79" width="6.62" height="11.91" fill="#00BFC4"/>
<rect x="74.50" y="595.53" width="6.62" height="2.17" fill="#00BFC4"/>
<rect x="89.20" y="595.88" width="6.62" height="1.82" fill="#00BFC4"/>
<rect x="103.90" y="596.77" width="6.62" height="0.93" fill="#00BFC4"/>
<rect x="118.60" y="597.12" width="6.62" height="0.58" fill="#00BFC4"/>
<path d="M60.00,589.10 C60.17,588.33 60.58,585.67 61.00,584.50 C61.42,583.33 62.00,582.42 62.50,582.10 C63.00,581.78 63.42,582.27 64.00,582.60 C64.58,582.93 65.33,583.50 66.00,584.10 C66.67,584.70 67.32,585.53 68.00,586.20 C68.68,586.87 69.43,587.50 70.10,588.10 C70.77,588.70 71.00,589.13 72.00,589.80 C73.00,590.47 74.42,591.38 76.10,592.10 C77.78,592.82 79.77,593.53 82.10,594.10 C84.43,594.67 87.08,595.12 90.10,595.50 C93.12,595.88 96.88,596.18 100.20,596.40 C103.52,596.62 105.03,596.67 110.00,596.80 C114.97,596.93 74.17,597.10 130.00,597.20 C185.83,597.30 392.50,597.37 445.00,597.40" fill="none" stroke="#FF0000" stroke-width="1.4" stroke-linejoin="round" stroke-linecap="butt"/>
<path d="M65.10,597.10 C65.33,596.85 66.00,596.27 66.50,595.60 C67.00,594.93 67.52,594.03 68.10,593.10 C68.68,592.17 69.33,591.00 70.00,590.00 C70.67,589.00 71.43,587.90 72.10,587.10 C72.77,586.30 73.33,585.70 74.00,585.20 C74.67,584.70 75.43,584.25 76.10,584.10 C76.77,583.95 77.33,584.13 78.00,584.30 C78.67,584.47 79.43,584.72 80.10,585.10 C80.77,585.48 81.33,586.10 82.00,586.60 C82.67,587.10 83.43,587.55 84.10,588.10 C84.77,588.65 85.33,589.40 86.00,589.90 C86.67,590.40 87.27,590.65 88.10,591.10 C88.93,591.55 90.02,592.17 91.00,592.60 C91.98,593.03 92.50,593.30 94.00,593.70 C95.50,594.10 97.30,594.53 100.00,595.00 C102.70,595.47 105.20,596.15 110.20,596.50 C115.20,596.85 74.20,596.95 130.00,597.10 C185.80,597.25 392.50,597.35 445.00,597.40" fill="none" stroke="#0000FF" stroke-width="1.4" stroke-linejoin="round" stroke-linecap="butt"/>
<line x1="86.50" y1="565.80" x2="86.50" y2="598.40" stroke="#000" stroke-width="1.3"/>
<line x1="38" y1="597.3" x2="41.3" y2="597.3" stroke="#333333" stroke-width="1.25"/>
<text transform="translate(35.4 600.1)" font-size="7.4" fill="#4d4d4d" text-anchor="end">0</text>
<line x1="38" y1="579.6" x2="41.3" y2="579.6" stroke="#333333" stroke-width="1.25"/>
<text transform="translate(35.4 582.4)" font-size="7.4" fill="#4d4d4d" text-anchor="end">1</text>
<rect x="41.3" y="605.5" width="404" height="32.6" fill="#fff"/>
<line x1="59.8" y1="605.5" x2="59.8" y2="638.1" stroke="#EBEBEB" stroke-width="0.8"/>
<line x1="133.3" y1="605.5" x2="133.3" y2="638.1" stroke="#EBEBEB" stroke-width="0.8"/>
<line x1="206.8" y1="605.5" x2="206.8" y2="638.1" stroke="#EBEBEB" stroke-width="0.8"/>
<line x1="280.3" y1="605.5" x2="280.3" y2="638.1" stroke="#EBEBEB" stroke-width="0.8"/>
<line x1="353.8" y1="605.5" x2="353.8" y2="638.1" stroke="#EBEBEB" stroke-width="0.8"/>
<line x1="427.3" y1="605.5" x2="427.3" y2="638.1" stroke="#EBEBEB" stroke-width="0.8"/>
<line x1="96.55" y1="605.5" x2="96.55" y2="638.1" stroke="#EBEBEB" stroke-width="0.8"/>
<line x1="170.05" y1="605.5" x2="170.05" y2="638.1" stroke="#EBEBEB" stroke-width="0.8"/>
<line x1="243.55" y1="605.5" x2="243.55" y2="638.1" stroke="#EBEBEB" stroke-width="0.8"/>
<line x1="317.05" y1="605.5" x2="317.05" y2="638.1" stroke="#EBEBEB" stroke-width="0.8"/>
<line x1="390.55" y1="605.5" x2="390.55" y2="638.1" stroke="#EBEBEB" stroke-width="0.8"/>
<line x1="41.3" y1="637" x2="445.3" y2="637" stroke="#EBEBEB" stroke-width="0.8"/>
<line x1="41.3" y1="619.3" x2="445.3" y2="619.3" stroke="#EBEBEB" stroke-width="0.8"/>
<line x1="41.3" y1="628.15" x2="445.3" y2="628.15" stroke="#EBEBEB" stroke-width="0.8"/>
<line x1="41.3" y1="610.45" x2="445.3" y2="610.45" stroke="#EBEBEB" stroke-width="0.8"/>
<rect x="41.3" y="605.5" width="404" height="32.6" fill="none" stroke="#8a8a8a" stroke-width="1.3"/>
<rect x="445.3" y="605.5" width="17.3" height="32.6" fill="#D9D9D9" stroke="#8a8a8a" stroke-width="1.3"/>
<text transform="translate(453.55 622) rotate(90) scale(1 0.88)" y="2.05" text-anchor="middle" font-size="7.9" fill="#1a1a1a">pushpull</text>
<rect x="53.18" y="625.32" width="6.62" height="12.08" fill="#F8766D"/>
<rect x="67.89" y="635.23" width="6.62" height="2.17" fill="#F8766D"/>
<rect x="82.58" y="636.29" width="6.62" height="1.11" fill="#F8766D"/>
<rect x="97.28" y="636.82" width="6.62" height="0.58" fill="#F8766D"/>
<rect x="59.80" y="624.96" width="6.62" height="12.44" fill="#00BFC4"/>
<rect x="74.50" y="635.23" width="6.62" height="2.17" fill="#00BFC4"/>
<rect x="89.20" y="636.12" width="6.62" height="1.29" fill="#00BFC4"/>
<rect x="103.90" y="636.82" width="6.62" height="0.58" fill="#00BFC4"/>
<path d="M59.50,620.00 C59.63,618.83 60.05,615.00 60.30,613.00 C60.55,611.00 60.80,609.10 61.00,608.00 C61.20,606.90 61.30,606.57 61.50,606.40 C61.70,606.23 61.95,606.52 62.20,607.00 C62.45,607.48 62.70,608.30 63.00,609.30 C63.30,610.30 63.65,611.22 64.00,613.00 C64.35,614.78 64.68,618.00 65.10,620.00 C65.52,622.00 66.00,623.65 66.50,625.00 C67.00,626.35 67.52,627.23 68.10,628.10 C68.68,628.97 69.33,629.53 70.00,630.20 C70.67,630.87 70.77,631.38 72.10,632.10 C73.43,632.82 75.68,633.90 78.00,634.50 C80.32,635.10 82.33,635.40 86.00,635.70 C89.67,636.00 89.33,636.13 100.00,636.30 C110.67,636.47 92.50,636.60 150.00,636.70 C207.50,636.80 395.83,636.87 445.00,636.90" fill="none" stroke="#FF0000" stroke-width="1.4" stroke-linejoin="round" stroke-linecap="butt"/>
<path d="M62.50,637.10 C62.72,636.50 63.37,635.33 63.80,633.50 C64.23,631.67 64.73,628.35 65.10,626.10 C65.47,623.85 65.73,622.02 66.00,620.00 C66.27,617.98 66.43,615.67 66.70,614.00 C66.97,612.33 67.30,610.90 67.60,610.00 C67.90,609.10 68.18,608.72 68.50,608.60 C68.82,608.48 69.23,608.90 69.50,609.30 C69.77,609.70 69.85,610.13 70.10,611.00 C70.35,611.87 70.67,613.15 71.00,614.50 C71.33,615.85 71.68,617.52 72.10,619.10 C72.52,620.68 73.00,622.50 73.50,624.00 C74.00,625.50 74.52,627.02 75.10,628.10 C75.68,629.18 76.50,629.77 77.00,630.50 C77.50,631.23 77.27,631.87 78.10,632.50 C78.93,633.13 81.00,633.83 82.00,634.30 C83.00,634.77 82.42,634.97 84.10,635.30 C85.78,635.63 87.78,636.05 92.10,636.30 C96.42,636.55 100.35,636.68 110.00,636.80 C119.65,636.92 97.07,636.95 150.00,637.00 C202.93,637.05 381.33,637.08 427.60,637.10" fill="none" stroke="#0000FF" stroke-width="1.4" stroke-linejoin="round" stroke-linecap="butt"/>
<line x1="72.50" y1="605.50" x2="72.50" y2="638.10" stroke="#000" stroke-width="1.3"/>
<line x1="38" y1="637" x2="41.3" y2="637" stroke="#333333" stroke-width="1.25"/>
<text transform="translate(35.4 639.8)" font-size="7.4" fill="#4d4d4d" text-anchor="end">0</text>
<line x1="38" y1="619.3" x2="41.3" y2="619.3" stroke="#333333" stroke-width="1.25"/>
<text transform="translate(35.4 622.1)" font-size="7.4" fill="#4d4d4d" text-anchor="end">1</text>
<line x1="59.8" y1="638.1" x2="59.8" y2="641.7" stroke="#333333" stroke-width="1.25"/>
<text transform="translate(60.1 652.1) scale(0.94 1)" font-size="10.4" fill="#4d4d4d" text-anchor="middle">0</text>
<line x1="133.3" y1="638.1" x2="133.3" y2="641.7" stroke="#333333" stroke-width="1.25"/>
<text transform="translate(133.6 652.1) scale(0.94 1)" font-size="10.4" fill="#4d4d4d" text-anchor="middle">5</text>
<line x1="206.8" y1="638.1" x2="206.8" y2="641.7" stroke="#333333" stroke-width="1.25"/>
<text transform="translate(207.1 652.1) scale(0.94 1)" font-size="10.4" fill="#4d4d4d" text-anchor="middle">10</text>
<line x1="280.3" y1="638.1" x2="280.3" y2="641.7" stroke="#333333" stroke-width="1.25"/>
<text transform="translate(280.6 652.1) scale(0.94 1)" font-size="10.4" fill="#4d4d4d" text-anchor="middle">15</text>
<line x1="353.8" y1="638.1" x2="353.8" y2="641.7" stroke="#333333" stroke-width="1.25"/>
<text transform="translate(354.1 652.1) scale(0.94 1)" font-size="10.4" fill="#4d4d4d" text-anchor="middle">20</text>
<line x1="427.3" y1="638.1" x2="427.3" y2="641.7" stroke="#333333" stroke-width="1.25"/>
<text transform="translate(427.6 652.1) scale(0.94 1)" font-size="10.4" fill="#4d4d4d" text-anchor="middle">25</text>
<text transform="translate(243.3 665.8)" font-size="12.6" fill="#000" text-anchor="middle">mosquito count</text>
<text transform="translate(19.1 562.35) rotate(-90)" font-size="10.2" fill="#000" text-anchor="middle">relative frequency / density</text>
<rect x="498.9" y="525.5" width="177.5" height="31.9" fill="#fff"/>
<line x1="506.7" y1="525.5" x2="506.7" y2="557.4" stroke="#EBEBEB" stroke-width="0.8"/>
<line x1="547.2" y1="525.5" x2="547.2" y2="557.4" stroke="#EBEBEB" stroke-width="0.8"/>
<line x1="587.7" y1="525.5" x2="587.7" y2="557.4" stroke="#EBEBEB" stroke-width="0.8"/>
<line x1="628.2" y1="525.5" x2="628.2" y2="557.4" stroke="#EBEBEB" stroke-width="0.8"/>
<line x1="668.7" y1="525.5" x2="668.7" y2="557.4" stroke="#EBEBEB" stroke-width="0.8"/>
<line x1="526.95" y1="525.5" x2="526.95" y2="557.4" stroke="#EBEBEB" stroke-width="0.8"/>
<line x1="567.45" y1="525.5" x2="567.45" y2="557.4" stroke="#EBEBEB" stroke-width="0.8"/>
<line x1="607.95" y1="525.5" x2="607.95" y2="557.4" stroke="#EBEBEB" stroke-width="0.8"/>
<line x1="648.45" y1="525.5" x2="648.45" y2="557.4" stroke="#EBEBEB" stroke-width="0.8"/>
<line x1="498.9" y1="556.6" x2="676.4" y2="556.6" stroke="#EBEBEB" stroke-width="0.8"/>
<line x1="498.9" y1="538.6" x2="676.4" y2="538.6" stroke="#EBEBEB" stroke-width="0.8"/>
<line x1="498.9" y1="547.6" x2="676.4" y2="547.6" stroke="#EBEBEB" stroke-width="0.8"/>
<line x1="498.9" y1="529.6" x2="676.4" y2="529.6" stroke="#EBEBEB" stroke-width="0.8"/>
<rect x="498.9" y="525.5" width="177.5" height="31.9" fill="none" stroke="#8a8a8a" stroke-width="1.3"/>
<rect x="676.4" y="525.5" width="18.9" height="31.9" fill="#D9D9D9" stroke="#8a8a8a" stroke-width="1.3"/>
<text transform="translate(685.45 541.65) rotate(90) scale(1 0.88)" y="2.05" text-anchor="middle" font-size="7.9" fill="#1a1a1a">pull</text>
<path d="M498.98,556.59 C502.73,556.54 513.83,556.52 521.50,556.32 C529.18,556.12 539.31,555.66 545.01,555.40 C550.71,555.13 552.11,555.06 555.69,554.71 C559.28,554.36 562.93,553.84 566.51,553.30 C570.09,552.77 573.91,552.02 577.19,551.50 C580.47,550.98 583.21,550.58 586.20,550.20 C589.19,549.82 592.42,549.39 595.11,549.19 C597.79,548.99 599.59,548.86 602.29,549.01 C604.99,549.16 608.31,549.64 611.30,550.09 C614.29,550.54 616.92,551.14 620.21,551.71 C623.49,552.28 627.11,552.95 630.99,553.51 C634.88,554.08 639.33,554.67 643.50,555.10 C647.67,555.54 651.98,555.83 656.01,556.11 C660.05,556.39 665.75,556.66 667.70,556.77" fill="none" stroke="#FF0000" stroke-width="1.4" stroke-linejoin="round" stroke-linecap="butt"/>
<path d="M498.98,556.59 C502.73,556.54 513.83,556.52 521.50,556.32 C529.18,556.12 539.31,555.70 545.01,555.40 C550.71,555.09 552.11,554.99 555.69,554.49 C559.28,553.99 563.23,553.20 566.51,552.40 C569.79,551.60 572.41,550.60 575.39,549.70 C578.37,548.80 581.69,547.71 584.40,546.99 C587.10,546.28 589.67,545.73 591.61,545.40 C593.54,545.07 594.53,544.94 596.01,545.01 C597.49,545.07 598.84,545.32 600.49,545.80 C602.13,546.28 604.09,547.01 605.89,547.89 C607.70,548.78 609.52,550.05 611.30,551.10 C613.08,552.15 614.52,553.34 616.60,554.20 C618.69,555.07 620.08,555.87 623.81,556.30 C627.54,556.72 636.47,556.69 639.00,556.77" fill="none" stroke="#0000FF" stroke-width="1.4" stroke-linejoin="round" stroke-linecap="butt"/>
<line x1="586.50" y1="525.50" x2="586.50" y2="557.40" stroke="#000" stroke-width="1.3"/>
<line x1="495.6" y1="556.6" x2="498.9" y2="556.6" stroke="#333333" stroke-width="1.25"/>
<text transform="translate(492.7 560) scale(0.92 1)" font-size="9.2" fill="#4d4d4d" text-anchor="end">0</text>
<line x1="495.6" y1="538.6" x2="498.9" y2="538.6" stroke="#333333" stroke-width="1.25"/>
<text transform="translate(492.7 542) scale(0.92 1)" font-size="9.2" fill="#4d4d4d" text-anchor="end">3</text>
<rect x="498.9" y="564.9" width="177.5" height="31.9" fill="#fff"/>
<line x1="506.7" y1="564.9" x2="506.7" y2="596.8" stroke="#EBEBEB" stroke-width="0.8"/>
<line x1="547.2" y1="564.9" x2="547.2" y2="596.8" stroke="#EBEBEB" stroke-width="0.8"/>
<line x1="587.7" y1="564.9" x2="587.7" y2="596.8" stroke="#EBEBEB" stroke-width="0.8"/>
<line x1="628.2" y1="564.9" x2="628.2" y2="596.8" stroke="#EBEBEB" stroke-width="0.8"/>
<line x1="668.7" y1="564.9" x2="668.7" y2="596.8" stroke="#EBEBEB" stroke-width="0.8"/>
<line x1="526.95" y1="564.9" x2="526.95" y2="596.8" stroke="#EBEBEB" stroke-width="0.8"/>
<line x1="567.45" y1="564.9" x2="567.45" y2="596.8" stroke="#EBEBEB" stroke-width="0.8"/>
<line x1="607.95" y1="564.9" x2="607.95" y2="596.8" stroke="#EBEBEB" stroke-width="0.8"/>
<line x1="648.45" y1="564.9" x2="648.45" y2="596.8" stroke="#EBEBEB" stroke-width="0.8"/>
<line x1="498.9" y1="596" x2="676.4" y2="596" stroke="#EBEBEB" stroke-width="0.8"/>
<line x1="498.9" y1="578" x2="676.4" y2="578" stroke="#EBEBEB" stroke-width="0.8"/>
<line x1="498.9" y1="587" x2="676.4" y2="587" stroke="#EBEBEB" stroke-width="0.8"/>
<line x1="498.9" y1="569" x2="676.4" y2="569" stroke="#EBEBEB" stroke-width="0.8"/>
<rect x="498.9" y="564.9" width="177.5" height="31.9" fill="none" stroke="#8a8a8a" stroke-width="1.3"/>
<rect x="676.4" y="564.9" width="18.9" height="31.9" fill="#D9D9D9" stroke="#8a8a8a" stroke-width="1.3"/>
<text transform="translate(685.45 581.05) rotate(90) scale(1 0.88)" y="2.05" text-anchor="middle" font-size="7.9" fill="#1a1a1a">push</text>
<path d="M498.98,595.99 C502.73,595.96 513.83,595.93 521.50,595.85 C529.18,595.77 538.11,595.69 545.01,595.51 C551.91,595.33 557.54,595.03 562.90,594.79 C568.27,594.56 572.71,594.37 577.19,594.10 C581.67,593.84 586.22,593.57 589.81,593.20 C593.39,592.84 595.73,592.35 598.71,591.90 C601.69,591.45 604.71,590.91 607.70,590.50 C610.68,590.08 613.61,589.68 616.60,589.41 C619.59,589.15 622.63,588.94 625.61,588.91 C628.59,588.87 631.51,588.97 634.49,589.20 C637.47,589.43 640.50,589.87 643.50,590.29 C646.50,590.70 649.51,591.16 652.49,591.69 C655.47,592.23 658.86,592.94 661.39,593.49 C663.93,594.05 666.65,594.75 667.70,595.00" fill="none" stroke="#FF0000" stroke-width="1.4" stroke-linejoin="round" stroke-linecap="butt"/>
<path d="M498.98,595.99 C502.73,595.96 513.83,595.93 521.50,595.85 C529.18,595.77 538.11,595.69 545.01,595.51 C551.91,595.33 557.54,595.09 562.90,594.79 C568.27,594.49 573.31,594.07 577.19,593.71 C581.07,593.34 583.21,593.21 586.20,592.59 C589.19,591.97 592.12,590.86 595.11,590.00 C598.09,589.13 601.39,588.22 604.09,587.40 C606.79,586.58 609.22,585.68 611.30,585.09 C613.39,584.51 614.97,583.95 616.60,583.90 C618.24,583.85 619.60,584.22 621.11,584.80 C622.61,585.38 623.96,586.30 625.61,587.40 C627.26,588.50 629.21,590.28 630.99,591.40 C632.77,592.52 634.36,593.42 636.29,594.10 C638.23,594.79 640.50,595.18 642.60,595.51 C644.70,595.84 647.86,595.97 648.91,596.06" fill="none" stroke="#0000FF" stroke-width="1.4" stroke-linejoin="round" stroke-linecap="butt"/>
<line x1="599.60" y1="564.90" x2="599.60" y2="596.80" stroke="#000" stroke-width="1.3"/>
<line x1="495.6" y1="596" x2="498.9" y2="596" stroke="#333333" stroke-width="1.25"/>
<text transform="translate(492.7 599.4) scale(0.92 1)" font-size="9.2" fill="#4d4d4d" text-anchor="end">0</text>
<line x1="495.6" y1="578" x2="498.9" y2="578" stroke="#333333" stroke-width="1.25"/>
<text transform="translate(492.7 581.4) scale(0.92 1)" font-size="9.2" fill="#4d4d4d" text-anchor="end">3</text>
<rect x="498.9" y="604.6" width="177.5" height="31.9" fill="#fff"/>
<line x1="506.7" y1="604.6" x2="506.7" y2="636.5" stroke="#EBEBEB" stroke-width="0.8"/>
<line x1="547.2" y1="604.6" x2="547.2" y2="636.5" stroke="#EBEBEB" stroke-width="0.8"/>
<line x1="587.7" y1="604.6" x2="587.7" y2="636.5" stroke="#EBEBEB" stroke-width="0.8"/>
<line x1="628.2" y1="604.6" x2="628.2" y2="636.5" stroke="#EBEBEB" stroke-width="0.8"/>
<line x1="668.7" y1="604.6" x2="668.7" y2="636.5" stroke="#EBEBEB" stroke-width="0.8"/>
<line x1="526.95" y1="604.6" x2="526.95" y2="636.5" stroke="#EBEBEB" stroke-width="0.8"/>
<line x1="567.45" y1="604.6" x2="567.45" y2="636.5" stroke="#EBEBEB" stroke-width="0.8"/>
<line x1="607.95" y1="604.6" x2="607.95" y2="636.5" stroke="#EBEBEB" stroke-width="0.8"/>
<line x1="648.45" y1="604.6" x2="648.45" y2="636.5" stroke="#EBEBEB" stroke-width="0.8"/>
<line x1="498.9" y1="635.7" x2="676.4" y2="635.7" stroke="#EBEBEB" stroke-width="0.8"/>
<line x1="498.9" y1="617.7" x2="676.4" y2="617.7" stroke="#EBEBEB" stroke-width="0.8"/>
<line x1="498.9" y1="626.7" x2="676.4" y2="626.7" stroke="#EBEBEB" stroke-width="0.8"/>
<line x1="498.9" y1="608.7" x2="676.4" y2="608.7" stroke="#EBEBEB" stroke-width="0.8"/>
<rect x="498.9" y="604.6" width="177.5" height="31.9" fill="none" stroke="#8a8a8a" stroke-width="1.3"/>
<rect x="676.4" y="604.6" width="18.9" height="31.9" fill="#D9D9D9" stroke="#8a8a8a" stroke-width="1.3"/>
<text transform="translate(685.45 620.75) rotate(90) scale(1 0.88)" y="2.05" text-anchor="middle" font-size="7.9" fill="#1a1a1a">pushpull</text>
<path d="M498.98,635.46 C502.73,635.46 513.33,635.48 521.50,635.46 C529.68,635.43 539.17,635.39 548.01,635.32 C556.84,635.26 566.56,635.15 574.51,635.06 C582.46,634.97 589.80,634.87 595.72,634.79 C601.63,634.72 606.42,634.87 610.00,634.61 C613.58,634.34 614.83,633.69 617.21,633.20 C619.59,632.72 622.27,632.47 624.29,631.69 C626.30,630.91 627.75,629.64 629.30,628.51 C630.85,627.38 632.39,626.11 633.59,624.91 C634.79,623.71 635.54,622.44 636.51,621.30 C637.47,620.17 638.55,618.85 639.39,618.10 C640.24,617.34 640.85,617.07 641.57,616.77 C642.28,616.47 643.03,616.27 643.69,616.29 C644.35,616.31 644.96,616.60 645.54,616.90 C646.13,617.20 646.34,617.18 647.21,618.10 C648.09,619.01 649.59,621.01 650.79,622.39 C651.99,623.77 652.96,625.00 654.40,626.39 C655.83,627.78 657.77,629.65 659.40,630.71 C661.04,631.77 662.69,632.10 664.20,632.75 C665.72,633.40 667.78,634.30 668.50,634.61" fill="none" stroke="#FF0000" stroke-width="1.4" stroke-linejoin="round" stroke-linecap="butt"/>
<path d="M498.98,635.46 C507.15,635.43 535.42,635.37 548.01,635.32 C560.60,635.28 566.56,635.22 574.51,635.19 C582.46,635.16 589.80,635.17 595.72,635.14 C601.63,635.11 606.42,635.21 610.00,635.00 C613.58,634.80 614.83,634.38 617.21,633.89 C619.59,633.41 622.39,632.87 624.29,632.09 C626.19,631.31 627.41,630.28 628.61,629.20 C629.81,628.12 630.53,627.03 631.50,625.60 C632.46,624.16 633.58,622.40 634.41,620.61 C635.25,618.83 635.79,616.67 636.51,614.89 C637.22,613.10 638.13,611.07 638.71,609.91 C639.28,608.74 639.51,608.38 639.98,607.89 C640.44,607.41 641.00,607.06 641.49,606.99 C641.97,606.92 642.41,607.19 642.89,607.49 C643.38,607.79 643.80,607.79 644.40,608.79 C645.00,609.79 645.78,611.54 646.50,613.51 C647.21,615.48 647.98,618.23 648.70,620.61 C649.41,622.99 650.08,625.76 650.79,627.80 C651.51,629.83 652.16,631.60 652.99,632.80 C653.83,634.01 654.73,634.52 655.80,635.00 C656.87,635.49 658.80,635.58 659.40,635.69" fill="none" stroke="#0000FF" stroke-width="1.4" stroke-linejoin="round" stroke-linecap="butt"/>
<line x1="636.50" y1="604.60" x2="636.50" y2="636.50" stroke="#000" stroke-width="1.3"/>
<line x1="495.6" y1="635.7" x2="498.9" y2="635.7" stroke="#333333" stroke-width="1.25"/>
<text transform="translate(492.7 639.1) scale(0.92 1)" font-size="9.2" fill="#4d4d4d" text-anchor="end">0</text>
<line x1="495.6" y1="617.7" x2="498.9" y2="617.7" stroke="#333333" stroke-width="1.25"/>
<text transform="translate(492.7 621.1) scale(0.92 1)" font-size="9.2" fill="#4d4d4d" text-anchor="end">3</text>
<line x1="506.7" y1="636.5" x2="506.7" y2="640.1" stroke="#333333" stroke-width="1.25"/>
<text transform="translate(507 650.1) scale(0.9 1)" font-size="11.5" fill="#4d4d4d" text-anchor="middle">-1.0</text>
<line x1="547.2" y1="636.5" x2="547.2" y2="640.1" stroke="#333333" stroke-width="1.25"/>
<text transform="translate(547.5 650.1) scale(0.9 1)" font-size="11.5" fill="#4d4d4d" text-anchor="middle">-0.5</text>
<line x1="587.7" y1="636.5" x2="587.7" y2="640.1" stroke="#333333" stroke-width="1.25"/>
<text transform="translate(588 650.1) scale(0.9 1)" font-size="11.5" fill="#4d4d4d" text-anchor="middle">0.0</text>
<line x1="628.2" y1="636.5" x2="628.2" y2="640.1" stroke="#333333" stroke-width="1.25"/>
<text transform="translate(628.5 650.1) scale(0.9 1)" font-size="11.5" fill="#4d4d4d" text-anchor="middle">0.5</text>
<line x1="668.7" y1="636.5" x2="668.7" y2="640.1" stroke="#333333" stroke-width="1.25"/>
<text transform="translate(669 650.1) scale(0.9 1)" font-size="11.5" fill="#4d4d4d" text-anchor="middle">1.0</text>
<text transform="translate(587.65 665.3)" font-size="12.45" fill="#000" text-anchor="middle">protective efficacy</text>
<text transform="translate(482.8 578.4) rotate(-90)" font-size="10.5" fill="#000" text-anchor="middle">density</text>
<text x="15.8" y="701.5" font-size="12.4" fill="#000">posterior distribution</text>
<line x1="138.2" y1="697.4" x2="153.7" y2="697.4" stroke="#f00" stroke-width="1.3"/>
<text x="162.4" y="700.8" font-size="9.9" fill="#1a1a1a">arbitrary house-week</text>
<line x1="270" y1="697.4" x2="285.4" y2="697.4" stroke="#00f" stroke-width="1.3"/>
<text x="294.3" y="700.8" font-size="9.9" fill="#1a1a1a">average house-week</text>
<line x1="433.6" y1="687.2" x2="433.6" y2="706.5" stroke="#000" stroke-width="1.3"/>
<text x="450.2" y="700.8" font-size="9.9" fill="#1a1a1a">point estimate</text>
<text x="539.8" y="701.5" font-size="12.4" fill="#000">data</text>
<rect x="571.6" y="688" width="18.5" height="18.2" fill="#F8766D"/>
<text x="597" y="700.8" font-size="9.9" fill="#1a1a1a">simulated</text>
<rect x="647.8" y="688" width="18.5" height="18.2" fill="#00BFC4"/>
<text x="673.6" y="700.8" font-size="9.9" fill="#1a1a1a">true</text>
</svg>
</body></html>
